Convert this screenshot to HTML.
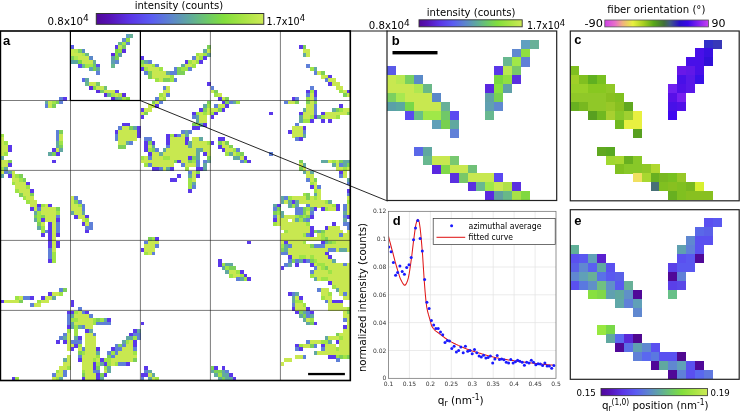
<!DOCTYPE html>
<html><head><meta charset="utf-8"><title>figure</title>
<style>
html,body{margin:0;padding:0;background:#fff;}
body{width:740px;height:412px;overflow:hidden;}
svg{display:block;}
text{font-family:"DejaVu Sans","Liberation Sans",sans-serif;fill:#000;}
.lbl{font-family:"Liberation Sans","DejaVu Sans",sans-serif;font-weight:bold;font-size:13px;fill:#000;}
.t10{font-size:10.4px;}
.tick{font-size:6px;fill:#333;}
</style></head><body>
<svg width="740" height="412" viewBox="0 0 740 412">
<defs>
<linearGradient id="gI" x1="0" x2="1" y1="0" y2="0">
<stop offset="0" stop-color="#50089a"/><stop offset="0.08" stop-color="#5612b6"/><stop offset="0.2" stop-color="#5a34e6"/><stop offset="0.33" stop-color="#5a5cf2"/>
<stop offset="0.45" stop-color="#5c86cc"/><stop offset="0.56" stop-color="#5faa9c"/><stop offset="0.66" stop-color="#6cc86a"/><stop offset="0.76" stop-color="#82de3c"/>
<stop offset="0.88" stop-color="#a8e444"/><stop offset="1" stop-color="#cdea55"/>
</linearGradient>
<linearGradient id="gO" x1="0" x2="1" y1="0" y2="0">
<stop offset="0" stop-color="#d040e8"/><stop offset="0.10" stop-color="#e870c8"/><stop offset="0.17" stop-color="#f0b080"/><stop offset="0.27" stop-color="#e8f040"/>
<stop offset="0.37" stop-color="#a8d020"/><stop offset="0.47" stop-color="#58a818"/><stop offset="0.57" stop-color="#407038"/><stop offset="0.63" stop-color="#405888"/>
<stop offset="0.72" stop-color="#2810c8"/><stop offset="0.80" stop-color="#3808e8"/><stop offset="0.90" stop-color="#8020f0"/><stop offset="1" stop-color="#c840f0"/>
</linearGradient>
<clipPath id="clipd"><rect x="388.5" y="211.3" width="167.5" height="167"/></clipPath>
</defs>
<rect x="0" y="0" width="740" height="412" fill="#fff"/>

<g id="panel-a" shape-rendering="crispEdges">
<rect x="125.76" y="34.28" width="3.83" height="3.83" fill="#60a0c0"/>
<rect x="129.45" y="34.28" width="3.83" height="3.83" fill="#68b098"/>
<rect x="122.08" y="37.97" width="3.83" height="3.83" fill="#6088d0"/>
<rect x="125.76" y="37.97" width="3.83" height="3.83" fill="#90e040"/>
<rect x="118.39" y="41.65" width="3.83" height="3.83" fill="#68b890"/>
<rect x="122.08" y="41.65" width="3.83" height="3.83" fill="#a0e848"/>
<rect x="125.76" y="41.65" width="3.83" height="3.83" fill="#6080d8"/>
<rect x="70.50" y="45.34" width="3.83" height="3.83" fill="#5a5ae8"/>
<rect x="114.71" y="45.34" width="3.83" height="3.83" fill="#5a38e8"/>
<rect x="118.39" y="45.34" width="3.83" height="3.83" fill="#b8e850"/>
<rect x="122.08" y="45.34" width="3.83" height="3.83" fill="#78c868"/>
<rect x="206.82" y="45.34" width="3.83" height="3.83" fill="#7cd058"/>
<rect x="298.92" y="45.34" width="3.83" height="3.83" fill="#5a38ea"/>
<rect x="302.61" y="45.34" width="3.83" height="3.83" fill="#7cd058"/>
<rect x="70.50" y="49.02" width="3.83" height="3.83" fill="#c8e850"/>
<rect x="74.18" y="49.02" width="3.83" height="3.83" fill="#b8e850"/>
<rect x="77.87" y="49.02" width="3.83" height="3.83" fill="#78d060"/>
<rect x="81.55" y="49.02" width="3.83" height="3.83" fill="#5a8ac8"/>
<rect x="114.71" y="49.02" width="3.83" height="3.83" fill="#78d840"/>
<rect x="118.39" y="49.02" width="3.83" height="3.83" fill="#90e040"/>
<rect x="122.08" y="49.02" width="3.83" height="3.83" fill="#5a30e0"/>
<rect x="203.13" y="49.02" width="3.83" height="3.83" fill="#62a8a2"/>
<rect x="206.82" y="49.02" width="3.83" height="3.83" fill="#c8e850"/>
<rect x="302.61" y="49.02" width="7.52" height="3.83" fill="#c8e850"/>
<rect x="70.50" y="52.71" width="11.20" height="3.83" fill="#c8e850"/>
<rect x="81.55" y="52.71" width="3.83" height="3.83" fill="#b0e850"/>
<rect x="85.24" y="52.71" width="3.83" height="3.83" fill="#6ab888"/>
<rect x="111.03" y="52.71" width="3.83" height="3.83" fill="#5a28e0"/>
<rect x="114.71" y="52.71" width="3.83" height="3.83" fill="#88e040"/>
<rect x="118.39" y="52.71" width="3.83" height="3.83" fill="#60a0a8"/>
<rect x="195.76" y="52.71" width="3.83" height="3.83" fill="#9ee446"/>
<rect x="199.45" y="52.71" width="3.83" height="3.83" fill="#c8e850"/>
<rect x="203.13" y="52.71" width="3.83" height="3.83" fill="#9ee446"/>
<rect x="206.82" y="52.71" width="3.83" height="3.83" fill="#62a8a2"/>
<rect x="302.61" y="52.71" width="3.83" height="3.83" fill="#62a8a2"/>
<rect x="306.29" y="52.71" width="3.83" height="3.83" fill="#c8e850"/>
<rect x="70.50" y="56.39" width="3.83" height="3.83" fill="#7cd060"/>
<rect x="74.18" y="56.39" width="3.83" height="3.83" fill="#a8e850"/>
<rect x="77.87" y="56.39" width="11.20" height="3.83" fill="#c8e850"/>
<rect x="88.92" y="56.39" width="3.83" height="3.83" fill="#5a88c8"/>
<rect x="111.03" y="56.39" width="3.83" height="3.83" fill="#60a0a8"/>
<rect x="114.71" y="56.39" width="3.83" height="3.83" fill="#78d050"/>
<rect x="140.50" y="56.39" width="3.83" height="3.83" fill="#5a38ea"/>
<rect x="192.08" y="56.39" width="3.83" height="3.83" fill="#5f80d8"/>
<rect x="195.76" y="56.39" width="3.83" height="3.83" fill="#c8e850"/>
<rect x="199.45" y="56.39" width="3.83" height="3.83" fill="#9ee446"/>
<rect x="203.13" y="56.39" width="3.83" height="3.83" fill="#5a38ea"/>
<rect x="70.50" y="60.07" width="3.83" height="3.83" fill="#5aa0a8"/>
<rect x="74.18" y="60.07" width="3.83" height="3.83" fill="#5aa8a0"/>
<rect x="77.87" y="60.07" width="3.83" height="3.83" fill="#78d848"/>
<rect x="81.55" y="60.07" width="11.20" height="3.83" fill="#c8e850"/>
<rect x="92.61" y="60.07" width="3.83" height="3.83" fill="#68b098"/>
<rect x="111.03" y="60.07" width="3.83" height="3.83" fill="#60a0b0"/>
<rect x="114.71" y="60.07" width="3.83" height="3.83" fill="#6088d0"/>
<rect x="140.50" y="60.07" width="3.83" height="3.83" fill="#7cd058"/>
<rect x="144.18" y="60.07" width="3.83" height="3.83" fill="#62a8a2"/>
<rect x="147.87" y="60.07" width="3.83" height="3.83" fill="#5f80d8"/>
<rect x="184.71" y="60.07" width="3.83" height="3.83" fill="#5a38ea"/>
<rect x="188.39" y="60.07" width="3.83" height="3.83" fill="#9ee446"/>
<rect x="192.08" y="60.07" width="3.83" height="3.83" fill="#c8e850"/>
<rect x="195.76" y="60.07" width="3.83" height="3.83" fill="#9ee446"/>
<rect x="199.45" y="60.07" width="3.83" height="3.83" fill="#5a38ea"/>
<rect x="77.87" y="63.76" width="3.83" height="3.83" fill="#5a4af0"/>
<rect x="81.55" y="63.76" width="3.83" height="3.83" fill="#68c088"/>
<rect x="85.24" y="63.76" width="7.52" height="3.83" fill="#a0e848"/>
<rect x="92.61" y="63.76" width="3.83" height="3.83" fill="#70c868"/>
<rect x="96.29" y="63.76" width="3.83" height="3.83" fill="#5a4af0"/>
<rect x="111.03" y="63.76" width="3.83" height="3.83" fill="#68b890"/>
<rect x="140.50" y="63.76" width="3.83" height="3.83" fill="#9ee446"/>
<rect x="144.18" y="63.76" width="7.52" height="3.83" fill="#c8e850"/>
<rect x="151.55" y="63.76" width="3.83" height="3.83" fill="#9ee446"/>
<rect x="155.24" y="63.76" width="3.83" height="3.83" fill="#5f80d8"/>
<rect x="181.03" y="63.76" width="3.83" height="3.83" fill="#62a8a2"/>
<rect x="184.71" y="63.76" width="7.52" height="3.83" fill="#c8e850"/>
<rect x="192.08" y="63.76" width="3.83" height="3.83" fill="#9ee446"/>
<rect x="306.29" y="63.76" width="3.83" height="3.83" fill="#5f80d8"/>
<rect x="88.92" y="67.44" width="3.83" height="3.83" fill="#60a0b8"/>
<rect x="92.61" y="67.44" width="3.83" height="3.83" fill="#78d050"/>
<rect x="96.29" y="67.44" width="3.83" height="3.83" fill="#60a8a0"/>
<rect x="140.50" y="67.44" width="3.83" height="3.83" fill="#5a38ea"/>
<rect x="144.18" y="67.44" width="3.83" height="3.83" fill="#9ee446"/>
<rect x="147.87" y="67.44" width="11.20" height="3.83" fill="#c8e850"/>
<rect x="158.92" y="67.44" width="3.83" height="3.83" fill="#9ee446"/>
<rect x="173.66" y="67.44" width="3.83" height="3.83" fill="#5f80d8"/>
<rect x="177.34" y="67.44" width="3.83" height="3.83" fill="#7cd058"/>
<rect x="181.03" y="67.44" width="7.52" height="3.83" fill="#9ee446"/>
<rect x="188.39" y="67.44" width="3.83" height="3.83" fill="#5f80d8"/>
<rect x="309.97" y="67.44" width="3.83" height="3.83" fill="#9ee446"/>
<rect x="313.66" y="67.44" width="3.83" height="3.83" fill="#62a8a2"/>
<rect x="96.29" y="71.13" width="3.83" height="3.83" fill="#6080d8"/>
<rect x="144.18" y="71.13" width="3.83" height="3.83" fill="#5f80d8"/>
<rect x="147.87" y="71.13" width="3.83" height="3.83" fill="#7cd058"/>
<rect x="151.55" y="71.13" width="14.89" height="3.83" fill="#c8e850"/>
<rect x="166.29" y="71.13" width="3.83" height="3.83" fill="#62a8a2"/>
<rect x="169.97" y="71.13" width="7.52" height="3.83" fill="#5f80d8"/>
<rect x="177.34" y="71.13" width="7.52" height="3.83" fill="#7cd058"/>
<rect x="313.66" y="71.13" width="3.83" height="3.83" fill="#5f80d8"/>
<rect x="317.34" y="71.13" width="3.83" height="3.83" fill="#c8e850"/>
<rect x="321.03" y="71.13" width="3.83" height="3.83" fill="#7cd058"/>
<rect x="147.87" y="74.81" width="3.83" height="3.83" fill="#7cd058"/>
<rect x="151.55" y="74.81" width="18.57" height="3.83" fill="#c8e850"/>
<rect x="169.97" y="74.81" width="3.83" height="3.83" fill="#9ee446"/>
<rect x="321.03" y="74.81" width="7.52" height="3.83" fill="#c8e850"/>
<rect x="328.39" y="74.81" width="3.83" height="3.83" fill="#5a38ea"/>
<rect x="81.55" y="78.49" width="3.83" height="3.83" fill="#5a68e8"/>
<rect x="85.24" y="78.49" width="3.83" height="3.83" fill="#60a8a0"/>
<rect x="155.24" y="78.49" width="3.83" height="3.83" fill="#9ee446"/>
<rect x="158.92" y="78.49" width="3.83" height="3.83" fill="#c8e850"/>
<rect x="162.61" y="78.49" width="7.52" height="3.83" fill="#7cd058"/>
<rect x="169.97" y="78.49" width="3.83" height="3.83" fill="#9ee446"/>
<rect x="173.66" y="78.49" width="3.83" height="3.83" fill="#5f80d8"/>
<rect x="324.71" y="78.49" width="3.83" height="3.83" fill="#5f80d8"/>
<rect x="328.39" y="78.49" width="7.52" height="3.83" fill="#c8e850"/>
<rect x="85.24" y="82.18" width="3.83" height="3.83" fill="#68b890"/>
<rect x="88.92" y="82.18" width="7.52" height="3.83" fill="#c8e850"/>
<rect x="96.29" y="82.18" width="3.83" height="3.83" fill="#78c870"/>
<rect x="206.82" y="82.18" width="3.83" height="3.83" fill="#5a38ea"/>
<rect x="328.39" y="82.18" width="3.83" height="3.83" fill="#5a38ea"/>
<rect x="332.08" y="82.18" width="7.52" height="3.83" fill="#c8e850"/>
<rect x="88.92" y="85.86" width="3.83" height="3.83" fill="#5a28e0"/>
<rect x="92.61" y="85.86" width="3.83" height="3.83" fill="#80d848"/>
<rect x="96.29" y="85.86" width="7.52" height="3.83" fill="#c8e850"/>
<rect x="103.66" y="85.86" width="3.83" height="3.83" fill="#70c078"/>
<rect x="162.61" y="85.86" width="3.83" height="3.83" fill="#5f80d8"/>
<rect x="166.29" y="85.86" width="3.83" height="3.83" fill="#c8e850"/>
<rect x="210.50" y="85.86" width="3.83" height="3.83" fill="#5f80d8"/>
<rect x="309.97" y="85.86" width="3.83" height="3.83" fill="#5f80d8"/>
<rect x="335.76" y="85.86" width="7.52" height="3.83" fill="#c8e850"/>
<rect x="96.29" y="89.55" width="3.83" height="3.83" fill="#5a30e0"/>
<rect x="99.97" y="89.55" width="3.83" height="3.83" fill="#78c868"/>
<rect x="103.66" y="89.55" width="11.20" height="3.83" fill="#c8e850"/>
<rect x="114.71" y="89.55" width="3.83" height="3.83" fill="#5a48f0"/>
<rect x="162.61" y="89.55" width="7.52" height="3.83" fill="#c8e850"/>
<rect x="210.50" y="89.55" width="3.83" height="3.83" fill="#c8e850"/>
<rect x="214.18" y="89.55" width="3.83" height="3.83" fill="#7cd058"/>
<rect x="306.29" y="89.55" width="3.83" height="3.83" fill="#5a38ea"/>
<rect x="309.97" y="89.55" width="3.83" height="3.83" fill="#9ee446"/>
<rect x="313.66" y="89.55" width="3.83" height="3.83" fill="#5a38ea"/>
<rect x="339.45" y="89.55" width="3.83" height="3.83" fill="#9ee446"/>
<rect x="343.13" y="89.55" width="3.83" height="3.83" fill="#c8e850"/>
<rect x="346.82" y="89.55" width="3.83" height="3.83" fill="#5a38ea"/>
<rect x="103.66" y="93.23" width="3.83" height="3.83" fill="#5a30e0"/>
<rect x="107.34" y="93.23" width="3.83" height="3.83" fill="#68b890"/>
<rect x="111.03" y="93.23" width="3.83" height="3.83" fill="#a0e848"/>
<rect x="114.71" y="93.23" width="3.83" height="3.83" fill="#c8e850"/>
<rect x="118.39" y="93.23" width="3.83" height="3.83" fill="#b0e048"/>
<rect x="122.08" y="93.23" width="3.83" height="3.83" fill="#5a30e0"/>
<rect x="158.92" y="93.23" width="3.83" height="3.83" fill="#9ee446"/>
<rect x="162.61" y="93.23" width="3.83" height="3.83" fill="#c8e850"/>
<rect x="166.29" y="93.23" width="3.83" height="3.83" fill="#5f80d8"/>
<rect x="214.18" y="93.23" width="3.83" height="3.83" fill="#9ee446"/>
<rect x="217.87" y="93.23" width="3.83" height="3.83" fill="#c8e850"/>
<rect x="306.29" y="93.23" width="3.83" height="3.83" fill="#5f80d8"/>
<rect x="309.97" y="93.23" width="3.83" height="3.83" fill="#c8e850"/>
<rect x="313.66" y="93.23" width="3.83" height="3.83" fill="#5a38ea"/>
<rect x="343.13" y="93.23" width="3.83" height="3.83" fill="#7cd058"/>
<rect x="346.82" y="93.23" width="3.83" height="3.83" fill="#c8e850"/>
<rect x="59.45" y="96.92" width="3.83" height="3.83" fill="#5f80d8"/>
<rect x="63.13" y="96.92" width="3.83" height="3.83" fill="#5a38ea"/>
<rect x="111.03" y="96.92" width="3.83" height="3.83" fill="#5a28e0"/>
<rect x="114.71" y="96.92" width="3.83" height="3.83" fill="#60a0a0"/>
<rect x="118.39" y="96.92" width="3.83" height="3.83" fill="#68b888"/>
<rect x="122.08" y="96.92" width="3.83" height="3.83" fill="#a8e048"/>
<rect x="125.76" y="96.92" width="3.83" height="3.83" fill="#80d840"/>
<rect x="155.24" y="96.92" width="3.83" height="3.83" fill="#5f80d8"/>
<rect x="158.92" y="96.92" width="3.83" height="3.83" fill="#c8e850"/>
<rect x="162.61" y="96.92" width="3.83" height="3.83" fill="#9ee446"/>
<rect x="217.87" y="96.92" width="3.83" height="3.83" fill="#5a38ea"/>
<rect x="221.55" y="96.92" width="3.83" height="3.83" fill="#c8e850"/>
<rect x="225.24" y="96.92" width="3.83" height="3.83" fill="#7cd058"/>
<rect x="291.55" y="96.92" width="3.83" height="3.83" fill="#5a38ea"/>
<rect x="295.24" y="96.92" width="3.83" height="3.83" fill="#5f80d8"/>
<rect x="306.29" y="96.92" width="3.83" height="3.83" fill="#9ee446"/>
<rect x="309.97" y="96.92" width="3.83" height="3.83" fill="#c8e850"/>
<rect x="313.66" y="96.92" width="3.83" height="3.83" fill="#5f80d8"/>
<rect x="44.71" y="100.60" width="3.83" height="3.83" fill="#62a8a2"/>
<rect x="48.39" y="100.60" width="3.83" height="3.83" fill="#c8e850"/>
<rect x="52.08" y="100.60" width="3.83" height="3.83" fill="#9ee446"/>
<rect x="55.76" y="100.60" width="3.83" height="3.83" fill="#7cd058"/>
<rect x="59.45" y="100.60" width="3.83" height="3.83" fill="#5f80d8"/>
<rect x="151.55" y="100.60" width="3.83" height="3.83" fill="#7cd058"/>
<rect x="155.24" y="100.60" width="3.83" height="3.83" fill="#c8e850"/>
<rect x="158.92" y="100.60" width="3.83" height="3.83" fill="#5f80d8"/>
<rect x="206.82" y="100.60" width="3.83" height="3.83" fill="#7cd058"/>
<rect x="221.55" y="100.60" width="3.83" height="3.83" fill="#5a38ea"/>
<rect x="225.24" y="100.60" width="3.83" height="3.83" fill="#7cd058"/>
<rect x="228.92" y="100.60" width="3.83" height="3.83" fill="#5f80d8"/>
<rect x="232.61" y="100.60" width="3.83" height="3.83" fill="#62a8a2"/>
<rect x="236.29" y="100.60" width="3.83" height="3.83" fill="#9ee446"/>
<rect x="284.18" y="100.60" width="3.83" height="3.83" fill="#5f80d8"/>
<rect x="287.87" y="100.60" width="7.52" height="3.83" fill="#c8e850"/>
<rect x="295.24" y="100.60" width="3.83" height="3.83" fill="#7cd058"/>
<rect x="306.29" y="100.60" width="3.83" height="3.83" fill="#7cd058"/>
<rect x="309.97" y="100.60" width="3.83" height="3.83" fill="#c8e850"/>
<rect x="313.66" y="100.60" width="3.83" height="3.83" fill="#7cd058"/>
<rect x="44.71" y="104.28" width="3.83" height="3.83" fill="#5f80d8"/>
<rect x="48.39" y="104.28" width="3.83" height="3.83" fill="#c8e850"/>
<rect x="52.08" y="104.28" width="3.83" height="3.83" fill="#7cd058"/>
<rect x="147.87" y="104.28" width="7.52" height="3.83" fill="#c8e850"/>
<rect x="155.24" y="104.28" width="3.83" height="3.83" fill="#5a38ea"/>
<rect x="203.13" y="104.28" width="3.83" height="3.83" fill="#62a8a2"/>
<rect x="206.82" y="104.28" width="3.83" height="3.83" fill="#9ee446"/>
<rect x="214.18" y="104.28" width="3.83" height="3.83" fill="#5f80d8"/>
<rect x="217.87" y="104.28" width="7.52" height="3.83" fill="#c8e850"/>
<rect x="225.24" y="104.28" width="3.83" height="3.83" fill="#5a38ea"/>
<rect x="306.29" y="104.28" width="7.52" height="3.83" fill="#c8e850"/>
<rect x="313.66" y="104.28" width="3.83" height="3.83" fill="#5f80d8"/>
<rect x="339.45" y="104.28" width="3.83" height="3.83" fill="#5a38ea"/>
<rect x="140.50" y="107.97" width="3.83" height="3.83" fill="#5a38ea"/>
<rect x="144.18" y="107.97" width="7.52" height="3.83" fill="#c8e850"/>
<rect x="199.45" y="107.97" width="3.83" height="3.83" fill="#5a38ea"/>
<rect x="203.13" y="107.97" width="3.83" height="3.83" fill="#7cd058"/>
<rect x="206.82" y="107.97" width="11.20" height="3.83" fill="#c8e850"/>
<rect x="217.87" y="107.97" width="3.83" height="3.83" fill="#7cd058"/>
<rect x="221.55" y="107.97" width="3.83" height="3.83" fill="#5a38ea"/>
<rect x="302.61" y="107.97" width="3.83" height="3.83" fill="#62a8a2"/>
<rect x="306.29" y="107.97" width="7.52" height="3.83" fill="#c8e850"/>
<rect x="313.66" y="107.97" width="3.83" height="3.83" fill="#5f80d8"/>
<rect x="332.08" y="107.97" width="3.83" height="3.83" fill="#62a8a2"/>
<rect x="335.76" y="107.97" width="3.83" height="3.83" fill="#7cd058"/>
<rect x="339.45" y="107.97" width="3.83" height="3.83" fill="#9ee446"/>
<rect x="343.13" y="107.97" width="7.52" height="3.83" fill="#c8e850"/>
<rect x="140.50" y="111.65" width="3.83" height="3.83" fill="#c8e850"/>
<rect x="144.18" y="111.65" width="3.83" height="3.83" fill="#7cd058"/>
<rect x="192.08" y="111.65" width="3.83" height="3.83" fill="#5a38ea"/>
<rect x="195.76" y="111.65" width="3.83" height="3.83" fill="#9ee446"/>
<rect x="199.45" y="111.65" width="3.83" height="3.83" fill="#c8e850"/>
<rect x="203.13" y="111.65" width="3.83" height="3.83" fill="#9ee446"/>
<rect x="206.82" y="111.65" width="3.83" height="3.83" fill="#c8e850"/>
<rect x="210.50" y="111.65" width="3.83" height="3.83" fill="#9ee446"/>
<rect x="214.18" y="111.65" width="3.83" height="3.83" fill="#5a38ea"/>
<rect x="269.45" y="111.65" width="3.83" height="3.83" fill="#5a38ea"/>
<rect x="298.92" y="111.65" width="3.83" height="3.83" fill="#5a38ea"/>
<rect x="302.61" y="111.65" width="11.20" height="3.83" fill="#c8e850"/>
<rect x="313.66" y="111.65" width="3.83" height="3.83" fill="#5f80d8"/>
<rect x="321.03" y="111.65" width="3.83" height="3.83" fill="#5a38ea"/>
<rect x="324.71" y="111.65" width="22.26" height="3.83" fill="#c8e850"/>
<rect x="346.82" y="111.65" width="3.83" height="3.83" fill="#7cd058"/>
<rect x="140.50" y="115.34" width="3.83" height="3.83" fill="#5a38ea"/>
<rect x="192.08" y="115.34" width="3.83" height="3.83" fill="#5f80d8"/>
<rect x="195.76" y="115.34" width="3.83" height="3.83" fill="#62a8a2"/>
<rect x="199.45" y="115.34" width="7.52" height="3.83" fill="#c8e850"/>
<rect x="210.50" y="115.34" width="3.83" height="3.83" fill="#5a38ea"/>
<rect x="298.92" y="115.34" width="3.83" height="3.83" fill="#62a8a2"/>
<rect x="302.61" y="115.34" width="7.52" height="3.83" fill="#c8e850"/>
<rect x="309.97" y="115.34" width="3.83" height="3.83" fill="#9ee446"/>
<rect x="313.66" y="115.34" width="3.83" height="3.83" fill="#5a38ea"/>
<rect x="317.34" y="115.34" width="3.83" height="3.83" fill="#62a8a2"/>
<rect x="321.03" y="115.34" width="3.83" height="3.83" fill="#9ee446"/>
<rect x="324.71" y="115.34" width="11.20" height="3.83" fill="#c8e850"/>
<rect x="335.76" y="115.34" width="3.83" height="3.83" fill="#9ee446"/>
<rect x="195.76" y="119.02" width="3.83" height="3.83" fill="#62a8a2"/>
<rect x="199.45" y="119.02" width="7.52" height="3.83" fill="#c8e850"/>
<rect x="298.92" y="119.02" width="3.83" height="3.83" fill="#62a8a2"/>
<rect x="302.61" y="119.02" width="7.52" height="3.83" fill="#9ee446"/>
<rect x="309.97" y="119.02" width="3.83" height="3.83" fill="#5a38ea"/>
<rect x="321.03" y="119.02" width="3.83" height="3.83" fill="#5a38ea"/>
<rect x="328.39" y="119.02" width="3.83" height="3.83" fill="#5a38ea"/>
<rect x="122.08" y="122.71" width="7.52" height="3.83" fill="#5a38ea"/>
<rect x="192.08" y="122.71" width="3.83" height="3.83" fill="#7cd058"/>
<rect x="195.76" y="122.71" width="3.83" height="3.83" fill="#9ee446"/>
<rect x="199.45" y="122.71" width="3.83" height="3.83" fill="#62a8a2"/>
<rect x="203.13" y="122.71" width="3.83" height="3.83" fill="#5a38ea"/>
<rect x="295.24" y="122.71" width="3.83" height="3.83" fill="#5f80d8"/>
<rect x="118.39" y="126.39" width="3.83" height="3.83" fill="#5f80d8"/>
<rect x="122.08" y="126.39" width="7.52" height="3.83" fill="#c8e850"/>
<rect x="129.45" y="126.39" width="3.83" height="3.83" fill="#7cd058"/>
<rect x="133.13" y="126.39" width="3.83" height="3.83" fill="#62a8a2"/>
<rect x="136.82" y="126.39" width="3.83" height="3.83" fill="#5a38ea"/>
<rect x="192.08" y="126.39" width="7.52" height="3.83" fill="#5a38ea"/>
<rect x="291.55" y="126.39" width="11.20" height="3.83" fill="#c8e850"/>
<rect x="302.61" y="126.39" width="3.83" height="3.83" fill="#5a38ea"/>
<rect x="55.76" y="130.07" width="3.83" height="3.83" fill="#5f80d8"/>
<rect x="59.45" y="130.07" width="3.83" height="3.83" fill="#7cd058"/>
<rect x="114.71" y="130.07" width="3.83" height="3.83" fill="#5a38ea"/>
<rect x="118.39" y="130.07" width="18.57" height="3.83" fill="#c8e850"/>
<rect x="136.82" y="130.07" width="3.83" height="3.83" fill="#5a38ea"/>
<rect x="181.03" y="130.07" width="3.83" height="3.83" fill="#5f80d8"/>
<rect x="184.71" y="130.07" width="3.83" height="3.83" fill="#62a8a2"/>
<rect x="188.39" y="130.07" width="3.83" height="3.83" fill="#5f80d8"/>
<rect x="287.87" y="130.07" width="3.83" height="3.83" fill="#5a38ea"/>
<rect x="291.55" y="130.07" width="11.20" height="3.83" fill="#c8e850"/>
<rect x="302.61" y="130.07" width="3.83" height="3.83" fill="#5f80d8"/>
<rect x="0.50" y="133.76" width="3.83" height="3.83" fill="#9ee446"/>
<rect x="55.76" y="133.76" width="3.83" height="3.83" fill="#5f80d8"/>
<rect x="59.45" y="133.76" width="3.83" height="3.83" fill="#c8e850"/>
<rect x="114.71" y="133.76" width="3.83" height="3.83" fill="#5f80d8"/>
<rect x="118.39" y="133.76" width="18.57" height="3.83" fill="#c8e850"/>
<rect x="136.82" y="133.76" width="3.83" height="3.83" fill="#5a38ea"/>
<rect x="166.29" y="133.76" width="3.83" height="3.83" fill="#5a38ea"/>
<rect x="169.97" y="133.76" width="3.83" height="3.83" fill="#9ee446"/>
<rect x="173.66" y="133.76" width="3.83" height="3.83" fill="#5a38ea"/>
<rect x="177.34" y="133.76" width="3.83" height="3.83" fill="#5f80d8"/>
<rect x="181.03" y="133.76" width="3.83" height="3.83" fill="#c8e850"/>
<rect x="184.71" y="133.76" width="3.83" height="3.83" fill="#62a8a2"/>
<rect x="291.55" y="133.76" width="11.20" height="3.83" fill="#c8e850"/>
<rect x="302.61" y="133.76" width="3.83" height="3.83" fill="#62a8a2"/>
<rect x="0.50" y="137.44" width="3.83" height="3.83" fill="#c8e850"/>
<rect x="55.76" y="137.44" width="3.83" height="3.83" fill="#5f80d8"/>
<rect x="59.45" y="137.44" width="3.83" height="3.83" fill="#c8e850"/>
<rect x="114.71" y="137.44" width="3.83" height="3.83" fill="#5f80d8"/>
<rect x="118.39" y="137.44" width="18.57" height="3.83" fill="#c8e850"/>
<rect x="144.18" y="137.44" width="7.52" height="3.83" fill="#5f80d8"/>
<rect x="166.29" y="137.44" width="3.83" height="3.83" fill="#5a38ea"/>
<rect x="169.97" y="137.44" width="14.89" height="3.83" fill="#c8e850"/>
<rect x="184.71" y="137.44" width="3.83" height="3.83" fill="#5a38ea"/>
<rect x="192.08" y="137.44" width="7.52" height="3.83" fill="#c8e850"/>
<rect x="199.45" y="137.44" width="3.83" height="3.83" fill="#62a8a2"/>
<rect x="217.87" y="137.44" width="7.52" height="3.83" fill="#5a38ea"/>
<rect x="295.24" y="137.44" width="3.83" height="3.83" fill="#5f80d8"/>
<rect x="298.92" y="137.44" width="3.83" height="3.83" fill="#5a38ea"/>
<rect x="0.50" y="141.13" width="3.83" height="3.83" fill="#c8e850"/>
<rect x="4.18" y="141.13" width="3.83" height="3.83" fill="#9ee446"/>
<rect x="55.76" y="141.13" width="3.83" height="3.83" fill="#62a8a2"/>
<rect x="59.45" y="141.13" width="3.83" height="3.83" fill="#9ee446"/>
<rect x="118.39" y="141.13" width="7.52" height="3.83" fill="#c8e850"/>
<rect x="125.76" y="141.13" width="3.83" height="3.83" fill="#62a8a2"/>
<rect x="129.45" y="141.13" width="3.83" height="3.83" fill="#5f80d8"/>
<rect x="144.18" y="141.13" width="3.83" height="3.83" fill="#5a38ea"/>
<rect x="147.87" y="141.13" width="3.83" height="3.83" fill="#7cd058"/>
<rect x="151.55" y="141.13" width="3.83" height="3.83" fill="#5a38ea"/>
<rect x="166.29" y="141.13" width="3.83" height="3.83" fill="#5a38ea"/>
<rect x="169.97" y="141.13" width="14.89" height="3.83" fill="#c8e850"/>
<rect x="184.71" y="141.13" width="3.83" height="3.83" fill="#5a38ea"/>
<rect x="188.39" y="141.13" width="3.83" height="3.83" fill="#62a8a2"/>
<rect x="192.08" y="141.13" width="14.89" height="3.83" fill="#c8e850"/>
<rect x="206.82" y="141.13" width="3.83" height="3.83" fill="#9ee446"/>
<rect x="210.50" y="141.13" width="3.83" height="3.83" fill="#5a38ea"/>
<rect x="217.87" y="141.13" width="3.83" height="3.83" fill="#7cd058"/>
<rect x="221.55" y="141.13" width="3.83" height="3.83" fill="#c8e850"/>
<rect x="225.24" y="141.13" width="3.83" height="3.83" fill="#7cd058"/>
<rect x="0.50" y="144.81" width="7.52" height="3.83" fill="#c8e850"/>
<rect x="7.87" y="144.81" width="3.83" height="3.83" fill="#5a38ea"/>
<rect x="55.76" y="144.81" width="3.83" height="3.83" fill="#62a8a2"/>
<rect x="59.45" y="144.81" width="3.83" height="3.83" fill="#7cd058"/>
<rect x="118.39" y="144.81" width="7.52" height="3.83" fill="#7cd058"/>
<rect x="144.18" y="144.81" width="3.83" height="3.83" fill="#5a38ea"/>
<rect x="147.87" y="144.81" width="3.83" height="3.83" fill="#c8e850"/>
<rect x="151.55" y="144.81" width="3.83" height="3.83" fill="#62a8a2"/>
<rect x="166.29" y="144.81" width="3.83" height="3.83" fill="#5f80d8"/>
<rect x="169.97" y="144.81" width="18.57" height="3.83" fill="#c8e850"/>
<rect x="188.39" y="144.81" width="3.83" height="3.83" fill="#62a8a2"/>
<rect x="192.08" y="144.81" width="18.57" height="3.83" fill="#c8e850"/>
<rect x="217.87" y="144.81" width="3.83" height="3.83" fill="#5a38ea"/>
<rect x="221.55" y="144.81" width="7.52" height="3.83" fill="#c8e850"/>
<rect x="228.92" y="144.81" width="3.83" height="3.83" fill="#7cd058"/>
<rect x="0.50" y="148.49" width="7.52" height="3.83" fill="#c8e850"/>
<rect x="7.87" y="148.49" width="3.83" height="3.83" fill="#5a38ea"/>
<rect x="52.08" y="148.49" width="3.83" height="3.83" fill="#5a38ea"/>
<rect x="55.76" y="148.49" width="3.83" height="3.83" fill="#c8e850"/>
<rect x="59.45" y="148.49" width="3.83" height="3.83" fill="#62a8a2"/>
<rect x="144.18" y="148.49" width="3.83" height="3.83" fill="#5a38ea"/>
<rect x="147.87" y="148.49" width="3.83" height="3.83" fill="#9ee446"/>
<rect x="151.55" y="148.49" width="3.83" height="3.83" fill="#7cd058"/>
<rect x="155.24" y="148.49" width="3.83" height="3.83" fill="#5f80d8"/>
<rect x="162.61" y="148.49" width="3.83" height="3.83" fill="#62a8a2"/>
<rect x="166.29" y="148.49" width="29.62" height="3.83" fill="#c8e850"/>
<rect x="195.76" y="148.49" width="7.52" height="3.83" fill="#62a8a2"/>
<rect x="203.13" y="148.49" width="7.52" height="3.83" fill="#c8e850"/>
<rect x="221.55" y="148.49" width="3.83" height="3.83" fill="#5a38ea"/>
<rect x="225.24" y="148.49" width="7.52" height="3.83" fill="#c8e850"/>
<rect x="232.61" y="148.49" width="3.83" height="3.83" fill="#9ee446"/>
<rect x="236.29" y="148.49" width="3.83" height="3.83" fill="#5f80d8"/>
<rect x="0.50" y="152.18" width="3.83" height="3.83" fill="#c8e850"/>
<rect x="4.18" y="152.18" width="3.83" height="3.83" fill="#9ee446"/>
<rect x="48.39" y="152.18" width="3.83" height="3.83" fill="#62a8a2"/>
<rect x="52.08" y="152.18" width="3.83" height="3.83" fill="#7cd058"/>
<rect x="55.76" y="152.18" width="3.83" height="3.83" fill="#5a38ea"/>
<rect x="147.87" y="152.18" width="3.83" height="3.83" fill="#5a38ea"/>
<rect x="151.55" y="152.18" width="7.52" height="3.83" fill="#c8e850"/>
<rect x="158.92" y="152.18" width="3.83" height="3.83" fill="#62a8a2"/>
<rect x="162.61" y="152.18" width="33.31" height="3.83" fill="#c8e850"/>
<rect x="195.76" y="152.18" width="3.83" height="3.83" fill="#62a8a2"/>
<rect x="203.13" y="152.18" width="3.83" height="3.83" fill="#5a38ea"/>
<rect x="206.82" y="152.18" width="3.83" height="3.83" fill="#c8e850"/>
<rect x="225.24" y="152.18" width="3.83" height="3.83" fill="#9ee446"/>
<rect x="228.92" y="152.18" width="3.83" height="3.83" fill="#62a8a2"/>
<rect x="232.61" y="152.18" width="3.83" height="3.83" fill="#c8e850"/>
<rect x="236.29" y="152.18" width="3.83" height="3.83" fill="#9ee446"/>
<rect x="239.97" y="152.18" width="3.83" height="3.83" fill="#7cd058"/>
<rect x="269.45" y="152.18" width="3.83" height="3.83" fill="#5f80d8"/>
<rect x="0.50" y="155.86" width="3.83" height="3.83" fill="#62a8a2"/>
<rect x="140.50" y="155.86" width="3.83" height="3.83" fill="#9ee446"/>
<rect x="144.18" y="155.86" width="3.83" height="3.83" fill="#c8e850"/>
<rect x="147.87" y="155.86" width="3.83" height="3.83" fill="#5f80d8"/>
<rect x="151.55" y="155.86" width="11.20" height="3.83" fill="#c8e850"/>
<rect x="162.61" y="155.86" width="7.52" height="3.83" fill="#9ee446"/>
<rect x="169.97" y="155.86" width="18.57" height="3.83" fill="#c8e850"/>
<rect x="188.39" y="155.86" width="3.83" height="3.83" fill="#5a38ea"/>
<rect x="192.08" y="155.86" width="3.83" height="3.83" fill="#7cd058"/>
<rect x="195.76" y="155.86" width="3.83" height="3.83" fill="#62a8a2"/>
<rect x="206.82" y="155.86" width="3.83" height="3.83" fill="#7cd058"/>
<rect x="232.61" y="155.86" width="7.52" height="3.83" fill="#62a8a2"/>
<rect x="239.97" y="155.86" width="3.83" height="3.83" fill="#c8e850"/>
<rect x="243.66" y="155.86" width="3.83" height="3.83" fill="#5a38ea"/>
<rect x="0.50" y="159.55" width="7.52" height="3.83" fill="#c8e850"/>
<rect x="7.87" y="159.55" width="3.83" height="3.83" fill="#7cd058"/>
<rect x="52.08" y="159.55" width="3.83" height="3.83" fill="#5a38ea"/>
<rect x="140.50" y="159.55" width="33.31" height="3.83" fill="#c8e850"/>
<rect x="173.66" y="159.55" width="3.83" height="3.83" fill="#7cd058"/>
<rect x="177.34" y="159.55" width="3.83" height="3.83" fill="#5a38ea"/>
<rect x="181.03" y="159.55" width="7.52" height="3.83" fill="#c8e850"/>
<rect x="188.39" y="159.55" width="3.83" height="3.83" fill="#7cd058"/>
<rect x="192.08" y="159.55" width="3.83" height="3.83" fill="#9ee446"/>
<rect x="195.76" y="159.55" width="3.83" height="3.83" fill="#5f80d8"/>
<rect x="203.13" y="159.55" width="3.83" height="3.83" fill="#5f80d8"/>
<rect x="206.82" y="159.55" width="3.83" height="3.83" fill="#62a8a2"/>
<rect x="239.97" y="159.55" width="3.83" height="3.83" fill="#5f80d8"/>
<rect x="243.66" y="159.55" width="3.83" height="3.83" fill="#7cd058"/>
<rect x="247.34" y="159.55" width="3.83" height="3.83" fill="#5a38ea"/>
<rect x="298.92" y="159.55" width="3.83" height="3.83" fill="#7cd058"/>
<rect x="321.03" y="159.55" width="7.52" height="3.83" fill="#62a8a2"/>
<rect x="328.39" y="159.55" width="3.83" height="3.83" fill="#c8e850"/>
<rect x="332.08" y="159.55" width="3.83" height="3.83" fill="#9ee446"/>
<rect x="335.76" y="159.55" width="3.83" height="3.83" fill="#c8e850"/>
<rect x="339.45" y="159.55" width="3.83" height="3.83" fill="#7cd058"/>
<rect x="343.13" y="159.55" width="7.52" height="3.83" fill="#62a8a2"/>
<rect x="0.50" y="163.23" width="7.52" height="3.83" fill="#c8e850"/>
<rect x="7.87" y="163.23" width="3.83" height="3.83" fill="#5a38ea"/>
<rect x="144.18" y="163.23" width="3.83" height="3.83" fill="#9ee446"/>
<rect x="147.87" y="163.23" width="3.83" height="3.83" fill="#5f80d8"/>
<rect x="151.55" y="163.23" width="22.26" height="3.83" fill="#c8e850"/>
<rect x="181.03" y="163.23" width="3.83" height="3.83" fill="#5f80d8"/>
<rect x="184.71" y="163.23" width="11.20" height="3.83" fill="#c8e850"/>
<rect x="195.76" y="163.23" width="3.83" height="3.83" fill="#5f80d8"/>
<rect x="203.13" y="163.23" width="3.83" height="3.83" fill="#62a8a2"/>
<rect x="298.92" y="163.23" width="3.83" height="3.83" fill="#c8e850"/>
<rect x="302.61" y="163.23" width="3.83" height="3.83" fill="#62a8a2"/>
<rect x="332.08" y="163.23" width="3.83" height="3.83" fill="#62a8a2"/>
<rect x="335.76" y="163.23" width="3.83" height="3.83" fill="#c8e850"/>
<rect x="339.45" y="163.23" width="3.83" height="3.83" fill="#5f80d8"/>
<rect x="343.13" y="163.23" width="3.83" height="3.83" fill="#62a8a2"/>
<rect x="346.82" y="163.23" width="3.83" height="3.83" fill="#7cd058"/>
<rect x="0.50" y="166.92" width="3.83" height="3.83" fill="#9ee446"/>
<rect x="4.18" y="166.92" width="3.83" height="3.83" fill="#62a8a2"/>
<rect x="151.55" y="166.92" width="7.52" height="3.83" fill="#5a38ea"/>
<rect x="158.92" y="166.92" width="3.83" height="3.83" fill="#5f80d8"/>
<rect x="162.61" y="166.92" width="3.83" height="3.83" fill="#c8e850"/>
<rect x="166.29" y="166.92" width="3.83" height="3.83" fill="#62a8a2"/>
<rect x="169.97" y="166.92" width="3.83" height="3.83" fill="#5a38ea"/>
<rect x="184.71" y="166.92" width="3.83" height="3.83" fill="#9ee446"/>
<rect x="195.76" y="166.92" width="7.52" height="3.83" fill="#5a38ea"/>
<rect x="203.13" y="166.92" width="3.83" height="3.83" fill="#62a8a2"/>
<rect x="298.92" y="166.92" width="3.83" height="3.83" fill="#7cd058"/>
<rect x="302.61" y="166.92" width="3.83" height="3.83" fill="#c8e850"/>
<rect x="335.76" y="166.92" width="7.52" height="3.83" fill="#c8e850"/>
<rect x="343.13" y="166.92" width="3.83" height="3.83" fill="#9ee446"/>
<rect x="346.82" y="166.92" width="3.83" height="3.83" fill="#c8e850"/>
<rect x="0.50" y="170.60" width="3.83" height="3.83" fill="#c8e850"/>
<rect x="4.18" y="170.60" width="3.83" height="3.83" fill="#5f80d8"/>
<rect x="7.87" y="170.60" width="3.83" height="3.83" fill="#62a8a2"/>
<rect x="11.55" y="170.60" width="3.83" height="3.83" fill="#c8e850"/>
<rect x="188.39" y="170.60" width="3.83" height="3.83" fill="#5f80d8"/>
<rect x="192.08" y="170.60" width="3.83" height="3.83" fill="#c8e850"/>
<rect x="195.76" y="170.60" width="3.83" height="3.83" fill="#7cd058"/>
<rect x="302.61" y="170.60" width="3.83" height="3.83" fill="#62a8a2"/>
<rect x="306.29" y="170.60" width="3.83" height="3.83" fill="#c8e850"/>
<rect x="309.97" y="170.60" width="3.83" height="3.83" fill="#62a8a2"/>
<rect x="339.45" y="170.60" width="3.83" height="3.83" fill="#5a38ea"/>
<rect x="343.13" y="170.60" width="3.83" height="3.83" fill="#c8e850"/>
<rect x="0.50" y="174.28" width="3.83" height="3.83" fill="#62a8a2"/>
<rect x="7.87" y="174.28" width="3.83" height="3.83" fill="#5a38ea"/>
<rect x="11.55" y="174.28" width="3.83" height="3.83" fill="#c8e850"/>
<rect x="15.24" y="174.28" width="3.83" height="3.83" fill="#9ee446"/>
<rect x="18.92" y="174.28" width="3.83" height="3.83" fill="#7cd058"/>
<rect x="177.34" y="174.28" width="3.83" height="3.83" fill="#5a38ea"/>
<rect x="188.39" y="174.28" width="3.83" height="3.83" fill="#62a8a2"/>
<rect x="192.08" y="174.28" width="3.83" height="3.83" fill="#c8e850"/>
<rect x="195.76" y="174.28" width="3.83" height="3.83" fill="#5a38ea"/>
<rect x="306.29" y="174.28" width="7.52" height="3.83" fill="#c8e850"/>
<rect x="339.45" y="174.28" width="3.83" height="3.83" fill="#5f80d8"/>
<rect x="343.13" y="174.28" width="3.83" height="3.83" fill="#c8e850"/>
<rect x="11.55" y="177.97" width="7.52" height="3.83" fill="#c8e850"/>
<rect x="18.92" y="177.97" width="3.83" height="3.83" fill="#9ee446"/>
<rect x="22.61" y="177.97" width="3.83" height="3.83" fill="#7cd058"/>
<rect x="169.97" y="177.97" width="7.52" height="3.83" fill="#5a38ea"/>
<rect x="188.39" y="177.97" width="3.83" height="3.83" fill="#9ee446"/>
<rect x="192.08" y="177.97" width="3.83" height="3.83" fill="#c8e850"/>
<rect x="306.29" y="177.97" width="3.83" height="3.83" fill="#5f80d8"/>
<rect x="309.97" y="177.97" width="3.83" height="3.83" fill="#c8e850"/>
<rect x="313.66" y="177.97" width="3.83" height="3.83" fill="#7cd058"/>
<rect x="346.82" y="177.97" width="3.83" height="3.83" fill="#62a8a2"/>
<rect x="11.55" y="181.65" width="3.83" height="3.83" fill="#9ee446"/>
<rect x="15.24" y="181.65" width="11.20" height="3.83" fill="#c8e850"/>
<rect x="26.29" y="181.65" width="3.83" height="3.83" fill="#5a38ea"/>
<rect x="188.39" y="181.65" width="3.83" height="3.83" fill="#9ee446"/>
<rect x="192.08" y="181.65" width="3.83" height="3.83" fill="#62a8a2"/>
<rect x="309.97" y="181.65" width="3.83" height="3.83" fill="#9ee446"/>
<rect x="313.66" y="181.65" width="3.83" height="3.83" fill="#c8e850"/>
<rect x="346.82" y="181.65" width="3.83" height="3.83" fill="#5f80d8"/>
<rect x="15.24" y="185.34" width="11.20" height="3.83" fill="#c8e850"/>
<rect x="26.29" y="185.34" width="3.83" height="3.83" fill="#9ee446"/>
<rect x="188.39" y="185.34" width="3.83" height="3.83" fill="#9ee446"/>
<rect x="192.08" y="185.34" width="3.83" height="3.83" fill="#5f80d8"/>
<rect x="309.97" y="185.34" width="3.83" height="3.83" fill="#5a38ea"/>
<rect x="313.66" y="185.34" width="3.83" height="3.83" fill="#c8e850"/>
<rect x="317.34" y="185.34" width="3.83" height="3.83" fill="#5f80d8"/>
<rect x="15.24" y="189.02" width="3.83" height="3.83" fill="#9ee446"/>
<rect x="18.92" y="189.02" width="11.20" height="3.83" fill="#c8e850"/>
<rect x="29.97" y="189.02" width="3.83" height="3.83" fill="#5a38ea"/>
<rect x="188.39" y="189.02" width="3.83" height="3.83" fill="#5a38ea"/>
<rect x="313.66" y="189.02" width="3.83" height="3.83" fill="#9ee446"/>
<rect x="317.34" y="189.02" width="3.83" height="3.83" fill="#c8e850"/>
<rect x="346.82" y="189.02" width="3.83" height="3.83" fill="#5a38ea"/>
<rect x="18.92" y="192.71" width="3.83" height="3.83" fill="#7cd058"/>
<rect x="22.61" y="192.71" width="7.52" height="3.83" fill="#c8e850"/>
<rect x="29.97" y="192.71" width="3.83" height="3.83" fill="#7cd058"/>
<rect x="302.61" y="192.71" width="3.83" height="3.83" fill="#9ee446"/>
<rect x="306.29" y="192.71" width="3.83" height="3.83" fill="#7cd058"/>
<rect x="313.66" y="192.71" width="3.83" height="3.83" fill="#62a8a2"/>
<rect x="317.34" y="192.71" width="3.83" height="3.83" fill="#c8e850"/>
<rect x="346.82" y="192.71" width="3.83" height="3.83" fill="#5f80d8"/>
<rect x="22.61" y="196.39" width="3.83" height="3.83" fill="#9ee446"/>
<rect x="26.29" y="196.39" width="7.52" height="3.83" fill="#c8e850"/>
<rect x="70.50" y="196.39" width="3.83" height="3.83" fill="#c8e850"/>
<rect x="74.18" y="196.39" width="3.83" height="3.83" fill="#5f80d8"/>
<rect x="280.50" y="196.39" width="3.83" height="3.83" fill="#62a8a2"/>
<rect x="284.18" y="196.39" width="3.83" height="3.83" fill="#5f80d8"/>
<rect x="287.87" y="196.39" width="3.83" height="3.83" fill="#9ee446"/>
<rect x="291.55" y="196.39" width="14.89" height="3.83" fill="#c8e850"/>
<rect x="306.29" y="196.39" width="3.83" height="3.83" fill="#7cd058"/>
<rect x="309.97" y="196.39" width="3.83" height="3.83" fill="#c8e850"/>
<rect x="313.66" y="196.39" width="3.83" height="3.83" fill="#9ee446"/>
<rect x="317.34" y="196.39" width="3.83" height="3.83" fill="#c8e850"/>
<rect x="346.82" y="196.39" width="3.83" height="3.83" fill="#c8e850"/>
<rect x="26.29" y="200.07" width="3.83" height="3.83" fill="#9ee446"/>
<rect x="29.97" y="200.07" width="7.52" height="3.83" fill="#c8e850"/>
<rect x="70.50" y="200.07" width="3.83" height="3.83" fill="#c8e850"/>
<rect x="74.18" y="200.07" width="3.83" height="3.83" fill="#7cd058"/>
<rect x="77.87" y="200.07" width="3.83" height="3.83" fill="#5f80d8"/>
<rect x="280.50" y="200.07" width="3.83" height="3.83" fill="#62a8a2"/>
<rect x="284.18" y="200.07" width="3.83" height="3.83" fill="#c8e850"/>
<rect x="287.87" y="200.07" width="3.83" height="3.83" fill="#62a8a2"/>
<rect x="291.55" y="200.07" width="3.83" height="3.83" fill="#5a38ea"/>
<rect x="295.24" y="200.07" width="3.83" height="3.83" fill="#62a8a2"/>
<rect x="298.92" y="200.07" width="25.94" height="3.83" fill="#c8e850"/>
<rect x="324.71" y="200.07" width="3.83" height="3.83" fill="#9ee446"/>
<rect x="328.39" y="200.07" width="3.83" height="3.83" fill="#62a8a2"/>
<rect x="346.82" y="200.07" width="3.83" height="3.83" fill="#9ee446"/>
<rect x="29.97" y="203.76" width="7.52" height="3.83" fill="#c8e850"/>
<rect x="37.34" y="203.76" width="3.83" height="3.83" fill="#5a38ea"/>
<rect x="41.03" y="203.76" width="3.83" height="3.83" fill="#9ee446"/>
<rect x="44.71" y="203.76" width="3.83" height="3.83" fill="#c8e850"/>
<rect x="48.39" y="203.76" width="3.83" height="3.83" fill="#5a38ea"/>
<rect x="70.50" y="203.76" width="7.52" height="3.83" fill="#c8e850"/>
<rect x="77.87" y="203.76" width="3.83" height="3.83" fill="#9ee446"/>
<rect x="81.55" y="203.76" width="3.83" height="3.83" fill="#5f80d8"/>
<rect x="273.13" y="203.76" width="3.83" height="3.83" fill="#62a8a2"/>
<rect x="276.82" y="203.76" width="3.83" height="3.83" fill="#5a38ea"/>
<rect x="287.87" y="203.76" width="3.83" height="3.83" fill="#62a8a2"/>
<rect x="291.55" y="203.76" width="3.83" height="3.83" fill="#9ee446"/>
<rect x="295.24" y="203.76" width="3.83" height="3.83" fill="#62a8a2"/>
<rect x="306.29" y="203.76" width="3.83" height="3.83" fill="#5f80d8"/>
<rect x="309.97" y="203.76" width="22.26" height="3.83" fill="#c8e850"/>
<rect x="332.08" y="203.76" width="3.83" height="3.83" fill="#9ee446"/>
<rect x="335.76" y="203.76" width="3.83" height="3.83" fill="#5a38ea"/>
<rect x="343.13" y="203.76" width="3.83" height="3.83" fill="#5f80d8"/>
<rect x="346.82" y="203.76" width="3.83" height="3.83" fill="#c8e850"/>
<rect x="29.97" y="207.44" width="3.83" height="3.83" fill="#5a38ea"/>
<rect x="33.66" y="207.44" width="3.83" height="3.83" fill="#c8e850"/>
<rect x="37.34" y="207.44" width="3.83" height="3.83" fill="#5f80d8"/>
<rect x="41.03" y="207.44" width="14.89" height="3.83" fill="#c8e850"/>
<rect x="55.76" y="207.44" width="3.83" height="3.83" fill="#7cd058"/>
<rect x="70.50" y="207.44" width="11.20" height="3.83" fill="#c8e850"/>
<rect x="81.55" y="207.44" width="3.83" height="3.83" fill="#5f80d8"/>
<rect x="273.13" y="207.44" width="3.83" height="3.83" fill="#5f80d8"/>
<rect x="276.82" y="207.44" width="3.83" height="3.83" fill="#7cd058"/>
<rect x="295.24" y="207.44" width="7.52" height="3.83" fill="#5f80d8"/>
<rect x="302.61" y="207.44" width="3.83" height="3.83" fill="#7cd058"/>
<rect x="306.29" y="207.44" width="3.83" height="3.83" fill="#9ee446"/>
<rect x="309.97" y="207.44" width="3.83" height="3.83" fill="#62a8a2"/>
<rect x="313.66" y="207.44" width="3.83" height="3.83" fill="#5a38ea"/>
<rect x="321.03" y="207.44" width="3.83" height="3.83" fill="#5a38ea"/>
<rect x="324.71" y="207.44" width="3.83" height="3.83" fill="#9ee446"/>
<rect x="328.39" y="207.44" width="7.52" height="3.83" fill="#c8e850"/>
<rect x="335.76" y="207.44" width="3.83" height="3.83" fill="#5a38ea"/>
<rect x="343.13" y="207.44" width="3.83" height="3.83" fill="#5f80d8"/>
<rect x="346.82" y="207.44" width="3.83" height="3.83" fill="#c8e850"/>
<rect x="33.66" y="211.13" width="3.83" height="3.83" fill="#62a8a2"/>
<rect x="37.34" y="211.13" width="3.83" height="3.83" fill="#9ee446"/>
<rect x="41.03" y="211.13" width="14.89" height="3.83" fill="#c8e850"/>
<rect x="55.76" y="211.13" width="3.83" height="3.83" fill="#9ee446"/>
<rect x="70.50" y="211.13" width="3.83" height="3.83" fill="#62a8a2"/>
<rect x="74.18" y="211.13" width="7.52" height="3.83" fill="#c8e850"/>
<rect x="81.55" y="211.13" width="3.83" height="3.83" fill="#62a8a2"/>
<rect x="273.13" y="211.13" width="3.83" height="3.83" fill="#7cd058"/>
<rect x="276.82" y="211.13" width="3.83" height="3.83" fill="#9ee446"/>
<rect x="280.50" y="211.13" width="3.83" height="3.83" fill="#62a8a2"/>
<rect x="295.24" y="211.13" width="7.52" height="3.83" fill="#5f80d8"/>
<rect x="302.61" y="211.13" width="3.83" height="3.83" fill="#7cd058"/>
<rect x="306.29" y="211.13" width="3.83" height="3.83" fill="#c8e850"/>
<rect x="309.97" y="211.13" width="3.83" height="3.83" fill="#5f80d8"/>
<rect x="343.13" y="211.13" width="3.83" height="3.83" fill="#62a8a2"/>
<rect x="346.82" y="211.13" width="3.83" height="3.83" fill="#c8e850"/>
<rect x="33.66" y="214.81" width="3.83" height="3.83" fill="#7cd058"/>
<rect x="37.34" y="214.81" width="3.83" height="3.83" fill="#9ee446"/>
<rect x="41.03" y="214.81" width="3.83" height="3.83" fill="#7cd058"/>
<rect x="44.71" y="214.81" width="11.20" height="3.83" fill="#c8e850"/>
<rect x="55.76" y="214.81" width="3.83" height="3.83" fill="#5f80d8"/>
<rect x="74.18" y="214.81" width="3.83" height="3.83" fill="#5a38ea"/>
<rect x="77.87" y="214.81" width="7.52" height="3.83" fill="#c8e850"/>
<rect x="85.24" y="214.81" width="3.83" height="3.83" fill="#5a38ea"/>
<rect x="273.13" y="214.81" width="3.83" height="3.83" fill="#5f80d8"/>
<rect x="276.82" y="214.81" width="3.83" height="3.83" fill="#c8e850"/>
<rect x="280.50" y="214.81" width="3.83" height="3.83" fill="#62a8a2"/>
<rect x="284.18" y="214.81" width="11.20" height="3.83" fill="#c8e850"/>
<rect x="295.24" y="214.81" width="3.83" height="3.83" fill="#9ee446"/>
<rect x="298.92" y="214.81" width="3.83" height="3.83" fill="#7cd058"/>
<rect x="302.61" y="214.81" width="3.83" height="3.83" fill="#9ee446"/>
<rect x="306.29" y="214.81" width="3.83" height="3.83" fill="#7cd058"/>
<rect x="309.97" y="214.81" width="3.83" height="3.83" fill="#5a38ea"/>
<rect x="343.13" y="214.81" width="3.83" height="3.83" fill="#5f80d8"/>
<rect x="346.82" y="214.81" width="3.83" height="3.83" fill="#5a38ea"/>
<rect x="33.66" y="218.49" width="3.83" height="3.83" fill="#62a8a2"/>
<rect x="37.34" y="218.49" width="3.83" height="3.83" fill="#9ee446"/>
<rect x="41.03" y="218.49" width="3.83" height="3.83" fill="#5a38ea"/>
<rect x="44.71" y="218.49" width="11.20" height="3.83" fill="#c8e850"/>
<rect x="55.76" y="218.49" width="3.83" height="3.83" fill="#5a38ea"/>
<rect x="81.55" y="218.49" width="3.83" height="3.83" fill="#c8e850"/>
<rect x="85.24" y="218.49" width="3.83" height="3.83" fill="#9ee446"/>
<rect x="273.13" y="218.49" width="3.83" height="3.83" fill="#5a38ea"/>
<rect x="276.82" y="218.49" width="11.20" height="3.83" fill="#c8e850"/>
<rect x="291.55" y="218.49" width="3.83" height="3.83" fill="#c8e850"/>
<rect x="295.24" y="218.49" width="3.83" height="3.83" fill="#62a8a2"/>
<rect x="298.92" y="218.49" width="3.83" height="3.83" fill="#9ee446"/>
<rect x="302.61" y="218.49" width="3.83" height="3.83" fill="#62a8a2"/>
<rect x="306.29" y="218.49" width="3.83" height="3.83" fill="#5f80d8"/>
<rect x="343.13" y="218.49" width="3.83" height="3.83" fill="#62a8a2"/>
<rect x="37.34" y="222.18" width="3.83" height="3.83" fill="#7cd058"/>
<rect x="41.03" y="222.18" width="3.83" height="3.83" fill="#c8e850"/>
<rect x="48.39" y="222.18" width="3.83" height="3.83" fill="#5a38ea"/>
<rect x="52.08" y="222.18" width="3.83" height="3.83" fill="#c8e850"/>
<rect x="55.76" y="222.18" width="3.83" height="3.83" fill="#5f80d8"/>
<rect x="81.55" y="222.18" width="3.83" height="3.83" fill="#5a38ea"/>
<rect x="85.24" y="222.18" width="3.83" height="3.83" fill="#c8e850"/>
<rect x="88.92" y="222.18" width="3.83" height="3.83" fill="#5f80d8"/>
<rect x="273.13" y="222.18" width="3.83" height="3.83" fill="#9ee446"/>
<rect x="276.82" y="222.18" width="29.62" height="3.83" fill="#c8e850"/>
<rect x="306.29" y="222.18" width="3.83" height="3.83" fill="#9ee446"/>
<rect x="332.08" y="222.18" width="3.83" height="3.83" fill="#5a38ea"/>
<rect x="343.13" y="222.18" width="7.52" height="3.83" fill="#5f80d8"/>
<rect x="37.34" y="225.86" width="3.83" height="3.83" fill="#62a8a2"/>
<rect x="41.03" y="225.86" width="3.83" height="3.83" fill="#9ee446"/>
<rect x="48.39" y="225.86" width="3.83" height="3.83" fill="#5a38ea"/>
<rect x="52.08" y="225.86" width="3.83" height="3.83" fill="#c8e850"/>
<rect x="55.76" y="225.86" width="3.83" height="3.83" fill="#5f80d8"/>
<rect x="85.24" y="225.86" width="7.52" height="3.83" fill="#5f80d8"/>
<rect x="280.50" y="225.86" width="29.62" height="3.83" fill="#c8e850"/>
<rect x="309.97" y="225.86" width="3.83" height="3.83" fill="#5a38ea"/>
<rect x="324.71" y="225.86" width="3.83" height="3.83" fill="#5a38ea"/>
<rect x="328.39" y="225.86" width="11.20" height="3.83" fill="#c8e850"/>
<rect x="346.82" y="225.86" width="3.83" height="3.83" fill="#5f80d8"/>
<rect x="41.03" y="229.55" width="3.83" height="3.83" fill="#9ee446"/>
<rect x="44.71" y="229.55" width="3.83" height="3.83" fill="#5f80d8"/>
<rect x="48.39" y="229.55" width="3.83" height="3.83" fill="#5a38ea"/>
<rect x="52.08" y="229.55" width="3.83" height="3.83" fill="#c8e850"/>
<rect x="55.76" y="229.55" width="3.83" height="3.83" fill="#5f80d8"/>
<rect x="85.24" y="229.55" width="3.83" height="3.83" fill="#5a38ea"/>
<rect x="284.18" y="229.55" width="3.83" height="3.83" fill="#9ee446"/>
<rect x="287.87" y="229.55" width="22.26" height="3.83" fill="#c8e850"/>
<rect x="309.97" y="229.55" width="3.83" height="3.83" fill="#5a38ea"/>
<rect x="313.66" y="229.55" width="3.83" height="3.83" fill="#7cd058"/>
<rect x="317.34" y="229.55" width="3.83" height="3.83" fill="#62a8a2"/>
<rect x="321.03" y="229.55" width="3.83" height="3.83" fill="#7cd058"/>
<rect x="324.71" y="229.55" width="18.57" height="3.83" fill="#c8e850"/>
<rect x="346.82" y="229.55" width="3.83" height="3.83" fill="#c8e850"/>
<rect x="41.03" y="233.23" width="3.83" height="3.83" fill="#5a38ea"/>
<rect x="48.39" y="233.23" width="3.83" height="3.83" fill="#5a38ea"/>
<rect x="52.08" y="233.23" width="3.83" height="3.83" fill="#c8e850"/>
<rect x="55.76" y="233.23" width="3.83" height="3.83" fill="#5a38ea"/>
<rect x="280.50" y="233.23" width="22.26" height="3.83" fill="#c8e850"/>
<rect x="302.61" y="233.23" width="3.83" height="3.83" fill="#9ee446"/>
<rect x="306.29" y="233.23" width="3.83" height="3.83" fill="#5f80d8"/>
<rect x="309.97" y="233.23" width="3.83" height="3.83" fill="#5a38ea"/>
<rect x="317.34" y="233.23" width="3.83" height="3.83" fill="#c8e850"/>
<rect x="321.03" y="233.23" width="3.83" height="3.83" fill="#9ee446"/>
<rect x="324.71" y="233.23" width="14.89" height="3.83" fill="#c8e850"/>
<rect x="339.45" y="233.23" width="3.83" height="3.83" fill="#5f80d8"/>
<rect x="343.13" y="233.23" width="7.52" height="3.83" fill="#c8e850"/>
<rect x="48.39" y="236.92" width="3.83" height="3.83" fill="#5a38ea"/>
<rect x="52.08" y="236.92" width="3.83" height="3.83" fill="#c8e850"/>
<rect x="147.87" y="236.92" width="3.83" height="3.83" fill="#7cd058"/>
<rect x="151.55" y="236.92" width="3.83" height="3.83" fill="#9ee446"/>
<rect x="155.24" y="236.92" width="3.83" height="3.83" fill="#5a38ea"/>
<rect x="280.50" y="236.92" width="40.68" height="3.83" fill="#c8e850"/>
<rect x="321.03" y="236.92" width="3.83" height="3.83" fill="#9ee446"/>
<rect x="324.71" y="236.92" width="3.83" height="3.83" fill="#7cd058"/>
<rect x="328.39" y="236.92" width="22.26" height="3.83" fill="#c8e850"/>
<rect x="48.39" y="240.60" width="3.83" height="3.83" fill="#5a38ea"/>
<rect x="52.08" y="240.60" width="3.83" height="3.83" fill="#c8e850"/>
<rect x="55.76" y="240.60" width="3.83" height="3.83" fill="#5a38ea"/>
<rect x="144.18" y="240.60" width="3.83" height="3.83" fill="#5f80d8"/>
<rect x="147.87" y="240.60" width="11.20" height="3.83" fill="#c8e850"/>
<rect x="247.34" y="240.60" width="3.83" height="3.83" fill="#5a38ea"/>
<rect x="280.50" y="240.60" width="3.83" height="3.83" fill="#c8e850"/>
<rect x="284.18" y="240.60" width="3.83" height="3.83" fill="#5a38ea"/>
<rect x="287.87" y="240.60" width="14.89" height="3.83" fill="#c8e850"/>
<rect x="302.61" y="240.60" width="3.83" height="3.83" fill="#9ee446"/>
<rect x="321.03" y="240.60" width="3.83" height="3.83" fill="#5a38ea"/>
<rect x="324.71" y="240.60" width="3.83" height="3.83" fill="#62a8a2"/>
<rect x="328.39" y="240.60" width="3.83" height="3.83" fill="#7cd058"/>
<rect x="332.08" y="240.60" width="3.83" height="3.83" fill="#9ee446"/>
<rect x="335.76" y="240.60" width="14.89" height="3.83" fill="#c8e850"/>
<rect x="48.39" y="244.28" width="3.83" height="3.83" fill="#5a38ea"/>
<rect x="52.08" y="244.28" width="3.83" height="3.83" fill="#c8e850"/>
<rect x="55.76" y="244.28" width="3.83" height="3.83" fill="#5a38ea"/>
<rect x="144.18" y="244.28" width="11.20" height="3.83" fill="#c8e850"/>
<rect x="155.24" y="244.28" width="3.83" height="3.83" fill="#5f80d8"/>
<rect x="280.50" y="244.28" width="3.83" height="3.83" fill="#9ee446"/>
<rect x="284.18" y="244.28" width="3.83" height="3.83" fill="#62a8a2"/>
<rect x="287.87" y="244.28" width="3.83" height="3.83" fill="#5f80d8"/>
<rect x="291.55" y="244.28" width="18.57" height="3.83" fill="#c8e850"/>
<rect x="309.97" y="244.28" width="3.83" height="3.83" fill="#7cd058"/>
<rect x="313.66" y="244.28" width="11.20" height="3.83" fill="#5f80d8"/>
<rect x="324.71" y="244.28" width="25.94" height="3.83" fill="#c8e850"/>
<rect x="48.39" y="247.97" width="3.83" height="3.83" fill="#5f80d8"/>
<rect x="52.08" y="247.97" width="3.83" height="3.83" fill="#c8e850"/>
<rect x="140.50" y="247.97" width="3.83" height="3.83" fill="#5a38ea"/>
<rect x="144.18" y="247.97" width="11.20" height="3.83" fill="#c8e850"/>
<rect x="280.50" y="247.97" width="3.83" height="3.83" fill="#7cd058"/>
<rect x="284.18" y="247.97" width="3.83" height="3.83" fill="#62a8a2"/>
<rect x="287.87" y="247.97" width="40.68" height="3.83" fill="#c8e850"/>
<rect x="328.39" y="247.97" width="7.52" height="3.83" fill="#5f80d8"/>
<rect x="335.76" y="247.97" width="3.83" height="3.83" fill="#c8e850"/>
<rect x="339.45" y="247.97" width="7.52" height="3.83" fill="#62a8a2"/>
<rect x="346.82" y="247.97" width="3.83" height="3.83" fill="#c8e850"/>
<rect x="48.39" y="251.65" width="3.83" height="3.83" fill="#5f80d8"/>
<rect x="52.08" y="251.65" width="3.83" height="3.83" fill="#9ee446"/>
<rect x="144.18" y="251.65" width="3.83" height="3.83" fill="#9ee446"/>
<rect x="147.87" y="251.65" width="3.83" height="3.83" fill="#c8e850"/>
<rect x="151.55" y="251.65" width="3.83" height="3.83" fill="#5f80d8"/>
<rect x="280.50" y="251.65" width="7.52" height="3.83" fill="#5f80d8"/>
<rect x="287.87" y="251.65" width="36.99" height="3.83" fill="#c8e850"/>
<rect x="324.71" y="251.65" width="3.83" height="3.83" fill="#5a38ea"/>
<rect x="48.39" y="255.34" width="3.83" height="3.83" fill="#5f80d8"/>
<rect x="52.08" y="255.34" width="3.83" height="3.83" fill="#9ee446"/>
<rect x="287.87" y="255.34" width="3.83" height="3.83" fill="#5a38ea"/>
<rect x="291.55" y="255.34" width="7.52" height="3.83" fill="#c8e850"/>
<rect x="298.92" y="255.34" width="7.52" height="3.83" fill="#9ee446"/>
<rect x="306.29" y="255.34" width="3.83" height="3.83" fill="#c8e850"/>
<rect x="309.97" y="255.34" width="3.83" height="3.83" fill="#9ee446"/>
<rect x="313.66" y="255.34" width="14.89" height="3.83" fill="#c8e850"/>
<rect x="328.39" y="255.34" width="3.83" height="3.83" fill="#5a38ea"/>
<rect x="48.39" y="259.02" width="3.83" height="3.83" fill="#5a38ea"/>
<rect x="52.08" y="259.02" width="3.83" height="3.83" fill="#9ee446"/>
<rect x="217.87" y="259.02" width="3.83" height="3.83" fill="#5a38ea"/>
<rect x="287.87" y="259.02" width="3.83" height="3.83" fill="#5f80d8"/>
<rect x="291.55" y="259.02" width="3.83" height="3.83" fill="#7cd058"/>
<rect x="295.24" y="259.02" width="3.83" height="3.83" fill="#5f80d8"/>
<rect x="298.92" y="259.02" width="3.83" height="3.83" fill="#62a8a2"/>
<rect x="302.61" y="259.02" width="3.83" height="3.83" fill="#5a38ea"/>
<rect x="306.29" y="259.02" width="3.83" height="3.83" fill="#5f80d8"/>
<rect x="309.97" y="259.02" width="3.83" height="3.83" fill="#7cd058"/>
<rect x="313.66" y="259.02" width="3.83" height="3.83" fill="#9ee446"/>
<rect x="317.34" y="259.02" width="14.89" height="3.83" fill="#c8e850"/>
<rect x="332.08" y="259.02" width="3.83" height="3.83" fill="#62a8a2"/>
<rect x="217.87" y="262.71" width="3.83" height="3.83" fill="#5a38ea"/>
<rect x="221.55" y="262.71" width="3.83" height="3.83" fill="#9ee446"/>
<rect x="225.24" y="262.71" width="7.52" height="3.83" fill="#62a8a2"/>
<rect x="284.18" y="262.71" width="3.83" height="3.83" fill="#5f80d8"/>
<rect x="287.87" y="262.71" width="3.83" height="3.83" fill="#62a8a2"/>
<rect x="295.24" y="262.71" width="3.83" height="3.83" fill="#5a38ea"/>
<rect x="309.97" y="262.71" width="3.83" height="3.83" fill="#5a38ea"/>
<rect x="313.66" y="262.71" width="3.83" height="3.83" fill="#c8e850"/>
<rect x="317.34" y="262.71" width="7.52" height="3.83" fill="#9ee446"/>
<rect x="324.71" y="262.71" width="18.57" height="3.83" fill="#c8e850"/>
<rect x="343.13" y="262.71" width="3.83" height="3.83" fill="#5f80d8"/>
<rect x="346.82" y="262.71" width="3.83" height="3.83" fill="#c8e850"/>
<rect x="221.55" y="266.39" width="3.83" height="3.83" fill="#62a8a2"/>
<rect x="225.24" y="266.39" width="3.83" height="3.83" fill="#9ee446"/>
<rect x="228.92" y="266.39" width="7.52" height="3.83" fill="#7cd058"/>
<rect x="280.50" y="266.39" width="3.83" height="3.83" fill="#5a38ea"/>
<rect x="313.66" y="266.39" width="3.83" height="3.83" fill="#5f80d8"/>
<rect x="317.34" y="266.39" width="3.83" height="3.83" fill="#c8e850"/>
<rect x="321.03" y="266.39" width="3.83" height="3.83" fill="#9ee446"/>
<rect x="324.71" y="266.39" width="3.83" height="3.83" fill="#7cd058"/>
<rect x="328.39" y="266.39" width="22.26" height="3.83" fill="#c8e850"/>
<rect x="225.24" y="270.07" width="3.83" height="3.83" fill="#62a8a2"/>
<rect x="228.92" y="270.07" width="7.52" height="3.83" fill="#c8e850"/>
<rect x="236.29" y="270.07" width="3.83" height="3.83" fill="#9ee446"/>
<rect x="239.97" y="270.07" width="3.83" height="3.83" fill="#5a38ea"/>
<rect x="309.97" y="270.07" width="3.83" height="3.83" fill="#5f80d8"/>
<rect x="313.66" y="270.07" width="14.89" height="3.83" fill="#c8e850"/>
<rect x="328.39" y="270.07" width="3.83" height="3.83" fill="#9ee446"/>
<rect x="332.08" y="270.07" width="18.57" height="3.83" fill="#c8e850"/>
<rect x="228.92" y="273.76" width="3.83" height="3.83" fill="#9ee446"/>
<rect x="232.61" y="273.76" width="7.52" height="3.83" fill="#c8e850"/>
<rect x="239.97" y="273.76" width="3.83" height="3.83" fill="#9ee446"/>
<rect x="243.66" y="273.76" width="3.83" height="3.83" fill="#5a38ea"/>
<rect x="309.97" y="273.76" width="3.83" height="3.83" fill="#9ee446"/>
<rect x="313.66" y="273.76" width="36.99" height="3.83" fill="#c8e850"/>
<rect x="236.29" y="277.44" width="3.83" height="3.83" fill="#5f80d8"/>
<rect x="239.97" y="277.44" width="3.83" height="3.83" fill="#62a8a2"/>
<rect x="243.66" y="277.44" width="3.83" height="3.83" fill="#9ee446"/>
<rect x="247.34" y="277.44" width="3.83" height="3.83" fill="#5a38ea"/>
<rect x="313.66" y="277.44" width="3.83" height="3.83" fill="#62a8a2"/>
<rect x="317.34" y="277.44" width="3.83" height="3.83" fill="#c8e850"/>
<rect x="321.03" y="277.44" width="7.52" height="3.83" fill="#9ee446"/>
<rect x="328.39" y="277.44" width="22.26" height="3.83" fill="#c8e850"/>
<rect x="328.39" y="281.13" width="3.83" height="3.83" fill="#5a38ea"/>
<rect x="332.08" y="281.13" width="18.57" height="3.83" fill="#c8e850"/>
<rect x="332.08" y="284.81" width="3.83" height="3.83" fill="#9ee446"/>
<rect x="335.76" y="284.81" width="14.89" height="3.83" fill="#c8e850"/>
<rect x="59.45" y="288.49" width="3.83" height="3.83" fill="#5f80d8"/>
<rect x="63.13" y="288.49" width="3.83" height="3.83" fill="#7cd058"/>
<rect x="317.34" y="288.49" width="3.83" height="3.83" fill="#5f80d8"/>
<rect x="321.03" y="288.49" width="7.52" height="3.83" fill="#c8e850"/>
<rect x="335.76" y="288.49" width="3.83" height="3.83" fill="#62a8a2"/>
<rect x="339.45" y="288.49" width="11.20" height="3.83" fill="#c8e850"/>
<rect x="48.39" y="292.18" width="3.83" height="3.83" fill="#5a38ea"/>
<rect x="52.08" y="292.18" width="7.52" height="3.83" fill="#c8e850"/>
<rect x="59.45" y="292.18" width="3.83" height="3.83" fill="#9ee446"/>
<rect x="287.87" y="292.18" width="3.83" height="3.83" fill="#5a38ea"/>
<rect x="291.55" y="292.18" width="3.83" height="3.83" fill="#5f80d8"/>
<rect x="295.24" y="292.18" width="3.83" height="3.83" fill="#62a8a2"/>
<rect x="321.03" y="292.18" width="7.52" height="3.83" fill="#c8e850"/>
<rect x="328.39" y="292.18" width="3.83" height="3.83" fill="#9ee446"/>
<rect x="339.45" y="292.18" width="3.83" height="3.83" fill="#c8e850"/>
<rect x="343.13" y="292.18" width="3.83" height="3.83" fill="#5f80d8"/>
<rect x="346.82" y="292.18" width="3.83" height="3.83" fill="#c8e850"/>
<rect x="15.24" y="295.86" width="3.83" height="3.83" fill="#9ee446"/>
<rect x="18.92" y="295.86" width="3.83" height="3.83" fill="#c8e850"/>
<rect x="22.61" y="295.86" width="7.52" height="3.83" fill="#5f80d8"/>
<rect x="29.97" y="295.86" width="3.83" height="3.83" fill="#5a38ea"/>
<rect x="41.03" y="295.86" width="3.83" height="3.83" fill="#5a38ea"/>
<rect x="44.71" y="295.86" width="7.52" height="3.83" fill="#c8e850"/>
<rect x="52.08" y="295.86" width="3.83" height="3.83" fill="#62a8a2"/>
<rect x="291.55" y="295.86" width="3.83" height="3.83" fill="#62a8a2"/>
<rect x="295.24" y="295.86" width="3.83" height="3.83" fill="#c8e850"/>
<rect x="298.92" y="295.86" width="3.83" height="3.83" fill="#5a38ea"/>
<rect x="321.03" y="295.86" width="3.83" height="3.83" fill="#9ee446"/>
<rect x="324.71" y="295.86" width="7.52" height="3.83" fill="#c8e850"/>
<rect x="343.13" y="295.86" width="7.52" height="3.83" fill="#c8e850"/>
<rect x="0.50" y="299.55" width="3.83" height="3.83" fill="#5a38ea"/>
<rect x="4.18" y="299.55" width="14.89" height="3.83" fill="#c8e850"/>
<rect x="18.92" y="299.55" width="3.83" height="3.83" fill="#7cd058"/>
<rect x="37.34" y="299.55" width="3.83" height="3.83" fill="#9ee446"/>
<rect x="41.03" y="299.55" width="7.52" height="3.83" fill="#c8e850"/>
<rect x="70.50" y="299.55" width="3.83" height="3.83" fill="#5a38ea"/>
<rect x="291.55" y="299.55" width="3.83" height="3.83" fill="#62a8a2"/>
<rect x="295.24" y="299.55" width="7.52" height="3.83" fill="#9ee446"/>
<rect x="324.71" y="299.55" width="3.83" height="3.83" fill="#5f80d8"/>
<rect x="328.39" y="299.55" width="3.83" height="3.83" fill="#c8e850"/>
<rect x="332.08" y="299.55" width="11.20" height="3.83" fill="#5a38ea"/>
<rect x="29.97" y="303.23" width="3.83" height="3.83" fill="#5f80d8"/>
<rect x="33.66" y="303.23" width="7.52" height="3.83" fill="#c8e850"/>
<rect x="70.50" y="303.23" width="3.83" height="3.83" fill="#5a38ea"/>
<rect x="291.55" y="303.23" width="3.83" height="3.83" fill="#5f80d8"/>
<rect x="295.24" y="303.23" width="7.52" height="3.83" fill="#c8e850"/>
<rect x="302.61" y="303.23" width="3.83" height="3.83" fill="#9ee446"/>
<rect x="328.39" y="303.23" width="14.89" height="3.83" fill="#c8e850"/>
<rect x="77.87" y="306.92" width="3.83" height="3.83" fill="#5f80d8"/>
<rect x="291.55" y="306.92" width="3.83" height="3.83" fill="#5a38ea"/>
<rect x="295.24" y="306.92" width="11.20" height="3.83" fill="#c8e850"/>
<rect x="306.29" y="306.92" width="3.83" height="3.83" fill="#5a38ea"/>
<rect x="328.39" y="306.92" width="18.57" height="3.83" fill="#c8e850"/>
<rect x="346.82" y="306.92" width="3.83" height="3.83" fill="#9ee446"/>
<rect x="66.82" y="310.60" width="7.52" height="3.83" fill="#5a38ea"/>
<rect x="74.18" y="310.60" width="3.83" height="3.83" fill="#9ee446"/>
<rect x="77.87" y="310.60" width="3.83" height="3.83" fill="#c8e850"/>
<rect x="81.55" y="310.60" width="3.83" height="3.83" fill="#5f80d8"/>
<rect x="85.24" y="310.60" width="3.83" height="3.83" fill="#5a38ea"/>
<rect x="295.24" y="310.60" width="3.83" height="3.83" fill="#5a38ea"/>
<rect x="298.92" y="310.60" width="3.83" height="3.83" fill="#7cd058"/>
<rect x="302.61" y="310.60" width="3.83" height="3.83" fill="#62a8a2"/>
<rect x="306.29" y="310.60" width="3.83" height="3.83" fill="#5f80d8"/>
<rect x="309.97" y="310.60" width="3.83" height="3.83" fill="#5a38ea"/>
<rect x="343.13" y="310.60" width="3.83" height="3.83" fill="#c8e850"/>
<rect x="346.82" y="310.60" width="3.83" height="3.83" fill="#7cd058"/>
<rect x="66.82" y="314.28" width="3.83" height="3.83" fill="#5f80d8"/>
<rect x="70.50" y="314.28" width="3.83" height="3.83" fill="#62a8a2"/>
<rect x="74.18" y="314.28" width="14.89" height="3.83" fill="#c8e850"/>
<rect x="88.92" y="314.28" width="3.83" height="3.83" fill="#5f80d8"/>
<rect x="298.92" y="314.28" width="3.83" height="3.83" fill="#62a8a2"/>
<rect x="302.61" y="314.28" width="3.83" height="3.83" fill="#7cd058"/>
<rect x="306.29" y="314.28" width="3.83" height="3.83" fill="#5f80d8"/>
<rect x="309.97" y="314.28" width="3.83" height="3.83" fill="#62a8a2"/>
<rect x="343.13" y="314.28" width="7.52" height="3.83" fill="#c8e850"/>
<rect x="66.82" y="317.97" width="3.83" height="3.83" fill="#5f80d8"/>
<rect x="70.50" y="317.97" width="7.52" height="3.83" fill="#9ee446"/>
<rect x="77.87" y="317.97" width="14.89" height="3.83" fill="#c8e850"/>
<rect x="92.61" y="317.97" width="3.83" height="3.83" fill="#9ee446"/>
<rect x="96.29" y="317.97" width="3.83" height="3.83" fill="#7cd058"/>
<rect x="99.97" y="317.97" width="3.83" height="3.83" fill="#9ee446"/>
<rect x="103.66" y="317.97" width="3.83" height="3.83" fill="#62a8a2"/>
<rect x="107.34" y="317.97" width="3.83" height="3.83" fill="#5a38ea"/>
<rect x="302.61" y="317.97" width="3.83" height="3.83" fill="#62a8a2"/>
<rect x="306.29" y="317.97" width="3.83" height="3.83" fill="#c8e850"/>
<rect x="309.97" y="317.97" width="3.83" height="3.83" fill="#9ee446"/>
<rect x="343.13" y="317.97" width="3.83" height="3.83" fill="#5f80d8"/>
<rect x="346.82" y="317.97" width="3.83" height="3.83" fill="#c8e850"/>
<rect x="66.82" y="321.65" width="3.83" height="3.83" fill="#5f80d8"/>
<rect x="70.50" y="321.65" width="3.83" height="3.83" fill="#62a8a2"/>
<rect x="74.18" y="321.65" width="18.57" height="3.83" fill="#c8e850"/>
<rect x="92.61" y="321.65" width="3.83" height="3.83" fill="#9ee446"/>
<rect x="96.29" y="321.65" width="14.89" height="3.83" fill="#5f80d8"/>
<rect x="140.50" y="321.65" width="3.83" height="3.83" fill="#5a38ea"/>
<rect x="306.29" y="321.65" width="3.83" height="3.83" fill="#62a8a2"/>
<rect x="309.97" y="321.65" width="3.83" height="3.83" fill="#7cd058"/>
<rect x="313.66" y="321.65" width="3.83" height="3.83" fill="#5a38ea"/>
<rect x="346.82" y="321.65" width="3.83" height="3.83" fill="#c8e850"/>
<rect x="66.82" y="325.34" width="3.83" height="3.83" fill="#5a38ea"/>
<rect x="70.50" y="325.34" width="3.83" height="3.83" fill="#62a8a2"/>
<rect x="74.18" y="325.34" width="3.83" height="3.83" fill="#9ee446"/>
<rect x="77.87" y="325.34" width="3.83" height="3.83" fill="#62a8a2"/>
<rect x="81.55" y="325.34" width="3.83" height="3.83" fill="#5f80d8"/>
<rect x="85.24" y="325.34" width="7.52" height="3.83" fill="#c8e850"/>
<rect x="343.13" y="325.34" width="3.83" height="3.83" fill="#5a38ea"/>
<rect x="346.82" y="325.34" width="3.83" height="3.83" fill="#c8e850"/>
<rect x="66.82" y="329.02" width="3.83" height="3.83" fill="#9ee446"/>
<rect x="74.18" y="329.02" width="3.83" height="3.83" fill="#9ee446"/>
<rect x="85.24" y="329.02" width="3.83" height="3.83" fill="#5a38ea"/>
<rect x="88.92" y="329.02" width="3.83" height="3.83" fill="#62a8a2"/>
<rect x="133.13" y="329.02" width="3.83" height="3.83" fill="#5a38ea"/>
<rect x="136.82" y="329.02" width="3.83" height="3.83" fill="#62a8a2"/>
<rect x="343.13" y="329.02" width="7.52" height="3.83" fill="#c8e850"/>
<rect x="63.13" y="332.71" width="3.83" height="3.83" fill="#5f80d8"/>
<rect x="66.82" y="332.71" width="3.83" height="3.83" fill="#c8e850"/>
<rect x="74.18" y="332.71" width="3.83" height="3.83" fill="#9ee446"/>
<rect x="85.24" y="332.71" width="7.52" height="3.83" fill="#c8e850"/>
<rect x="92.61" y="332.71" width="3.83" height="3.83" fill="#5f80d8"/>
<rect x="129.45" y="332.71" width="3.83" height="3.83" fill="#5a38ea"/>
<rect x="133.13" y="332.71" width="7.52" height="3.83" fill="#5f80d8"/>
<rect x="335.76" y="332.71" width="3.83" height="3.83" fill="#7cd058"/>
<rect x="339.45" y="332.71" width="11.20" height="3.83" fill="#c8e850"/>
<rect x="59.45" y="336.39" width="3.83" height="3.83" fill="#5f80d8"/>
<rect x="63.13" y="336.39" width="3.83" height="3.83" fill="#62a8a2"/>
<rect x="66.82" y="336.39" width="3.83" height="3.83" fill="#c8e850"/>
<rect x="74.18" y="336.39" width="3.83" height="3.83" fill="#62a8a2"/>
<rect x="77.87" y="336.39" width="3.83" height="3.83" fill="#5a38ea"/>
<rect x="85.24" y="336.39" width="11.20" height="3.83" fill="#c8e850"/>
<rect x="125.76" y="336.39" width="7.52" height="3.83" fill="#62a8a2"/>
<rect x="133.13" y="336.39" width="3.83" height="3.83" fill="#9ee446"/>
<rect x="136.82" y="336.39" width="3.83" height="3.83" fill="#5f80d8"/>
<rect x="324.71" y="336.39" width="3.83" height="3.83" fill="#62a8a2"/>
<rect x="328.39" y="336.39" width="11.20" height="3.83" fill="#c8e850"/>
<rect x="339.45" y="336.39" width="3.83" height="3.83" fill="#9ee446"/>
<rect x="343.13" y="336.39" width="7.52" height="3.83" fill="#c8e850"/>
<rect x="55.76" y="340.07" width="3.83" height="3.83" fill="#5a38ea"/>
<rect x="63.13" y="340.07" width="3.83" height="3.83" fill="#5a38ea"/>
<rect x="66.82" y="340.07" width="3.83" height="3.83" fill="#c8e850"/>
<rect x="70.50" y="340.07" width="11.20" height="3.83" fill="#5f80d8"/>
<rect x="85.24" y="340.07" width="11.20" height="3.83" fill="#c8e850"/>
<rect x="122.08" y="340.07" width="3.83" height="3.83" fill="#62a8a2"/>
<rect x="125.76" y="340.07" width="3.83" height="3.83" fill="#9ee446"/>
<rect x="129.45" y="340.07" width="3.83" height="3.83" fill="#c8e850"/>
<rect x="133.13" y="340.07" width="3.83" height="3.83" fill="#5a38ea"/>
<rect x="306.29" y="340.07" width="3.83" height="3.83" fill="#5f80d8"/>
<rect x="309.97" y="340.07" width="11.20" height="3.83" fill="#c8e850"/>
<rect x="321.03" y="340.07" width="7.52" height="3.83" fill="#9ee446"/>
<rect x="328.39" y="340.07" width="3.83" height="3.83" fill="#62a8a2"/>
<rect x="335.76" y="340.07" width="3.83" height="3.83" fill="#5a38ea"/>
<rect x="339.45" y="340.07" width="11.20" height="3.83" fill="#c8e850"/>
<rect x="66.82" y="343.76" width="7.52" height="3.83" fill="#c8e850"/>
<rect x="74.18" y="343.76" width="3.83" height="3.83" fill="#5a38ea"/>
<rect x="77.87" y="343.76" width="3.83" height="3.83" fill="#9ee446"/>
<rect x="85.24" y="343.76" width="11.20" height="3.83" fill="#c8e850"/>
<rect x="114.71" y="343.76" width="3.83" height="3.83" fill="#5f80d8"/>
<rect x="118.39" y="343.76" width="3.83" height="3.83" fill="#7cd058"/>
<rect x="122.08" y="343.76" width="3.83" height="3.83" fill="#5f80d8"/>
<rect x="125.76" y="343.76" width="7.52" height="3.83" fill="#c8e850"/>
<rect x="133.13" y="343.76" width="3.83" height="3.83" fill="#5a38ea"/>
<rect x="295.24" y="343.76" width="3.83" height="3.83" fill="#5a38ea"/>
<rect x="298.92" y="343.76" width="3.83" height="3.83" fill="#9ee446"/>
<rect x="302.61" y="343.76" width="7.52" height="3.83" fill="#c8e850"/>
<rect x="309.97" y="343.76" width="3.83" height="3.83" fill="#7cd058"/>
<rect x="313.66" y="343.76" width="3.83" height="3.83" fill="#5f80d8"/>
<rect x="321.03" y="343.76" width="3.83" height="3.83" fill="#5a38ea"/>
<rect x="324.71" y="343.76" width="11.20" height="3.83" fill="#c8e850"/>
<rect x="339.45" y="343.76" width="11.20" height="3.83" fill="#c8e850"/>
<rect x="66.82" y="347.44" width="3.83" height="3.83" fill="#c8e850"/>
<rect x="70.50" y="347.44" width="3.83" height="3.83" fill="#5a38ea"/>
<rect x="77.87" y="347.44" width="3.83" height="3.83" fill="#c8e850"/>
<rect x="81.55" y="347.44" width="3.83" height="3.83" fill="#5f80d8"/>
<rect x="85.24" y="347.44" width="11.20" height="3.83" fill="#c8e850"/>
<rect x="96.29" y="347.44" width="3.83" height="3.83" fill="#5a38ea"/>
<rect x="111.03" y="347.44" width="3.83" height="3.83" fill="#5a38ea"/>
<rect x="114.71" y="347.44" width="7.52" height="3.83" fill="#5f80d8"/>
<rect x="122.08" y="347.44" width="11.20" height="3.83" fill="#c8e850"/>
<rect x="133.13" y="347.44" width="3.83" height="3.83" fill="#5f80d8"/>
<rect x="295.24" y="347.44" width="3.83" height="3.83" fill="#5f80d8"/>
<rect x="298.92" y="347.44" width="3.83" height="3.83" fill="#5a38ea"/>
<rect x="321.03" y="347.44" width="3.83" height="3.83" fill="#5f80d8"/>
<rect x="324.71" y="347.44" width="11.20" height="3.83" fill="#c8e850"/>
<rect x="335.76" y="347.44" width="3.83" height="3.83" fill="#9ee446"/>
<rect x="339.45" y="347.44" width="11.20" height="3.83" fill="#c8e850"/>
<rect x="77.87" y="351.13" width="3.83" height="3.83" fill="#7cd058"/>
<rect x="81.55" y="351.13" width="3.83" height="3.83" fill="#9ee446"/>
<rect x="85.24" y="351.13" width="11.20" height="3.83" fill="#c8e850"/>
<rect x="96.29" y="351.13" width="3.83" height="3.83" fill="#62a8a2"/>
<rect x="107.34" y="351.13" width="3.83" height="3.83" fill="#5f80d8"/>
<rect x="111.03" y="351.13" width="3.83" height="3.83" fill="#9ee446"/>
<rect x="114.71" y="351.13" width="3.83" height="3.83" fill="#5f80d8"/>
<rect x="118.39" y="351.13" width="14.89" height="3.83" fill="#c8e850"/>
<rect x="133.13" y="351.13" width="3.83" height="3.83" fill="#9ee446"/>
<rect x="313.66" y="351.13" width="3.83" height="3.83" fill="#62a8a2"/>
<rect x="317.34" y="351.13" width="33.31" height="3.83" fill="#c8e850"/>
<rect x="66.82" y="354.81" width="3.83" height="3.83" fill="#c8e850"/>
<rect x="77.87" y="354.81" width="3.83" height="3.83" fill="#5f80d8"/>
<rect x="81.55" y="354.81" width="14.89" height="3.83" fill="#c8e850"/>
<rect x="96.29" y="354.81" width="3.83" height="3.83" fill="#9ee446"/>
<rect x="107.34" y="354.81" width="3.83" height="3.83" fill="#7cd058"/>
<rect x="111.03" y="354.81" width="3.83" height="3.83" fill="#5f80d8"/>
<rect x="114.71" y="354.81" width="22.26" height="3.83" fill="#c8e850"/>
<rect x="295.24" y="354.81" width="7.52" height="3.83" fill="#c8e850"/>
<rect x="302.61" y="354.81" width="3.83" height="3.83" fill="#5f80d8"/>
<rect x="328.39" y="354.81" width="7.52" height="3.83" fill="#5a38ea"/>
<rect x="335.76" y="354.81" width="3.83" height="3.83" fill="#9ee446"/>
<rect x="339.45" y="354.81" width="3.83" height="3.83" fill="#7cd058"/>
<rect x="343.13" y="354.81" width="3.83" height="3.83" fill="#9ee446"/>
<rect x="346.82" y="354.81" width="3.83" height="3.83" fill="#7cd058"/>
<rect x="63.13" y="358.49" width="3.83" height="3.83" fill="#62a8a2"/>
<rect x="66.82" y="358.49" width="3.83" height="3.83" fill="#c8e850"/>
<rect x="77.87" y="358.49" width="3.83" height="3.83" fill="#5a38ea"/>
<rect x="81.55" y="358.49" width="11.20" height="3.83" fill="#c8e850"/>
<rect x="92.61" y="358.49" width="3.83" height="3.83" fill="#9ee446"/>
<rect x="96.29" y="358.49" width="3.83" height="3.83" fill="#c8e850"/>
<rect x="99.97" y="358.49" width="3.83" height="3.83" fill="#5a38ea"/>
<rect x="103.66" y="358.49" width="7.52" height="3.83" fill="#9ee446"/>
<rect x="111.03" y="358.49" width="22.26" height="3.83" fill="#c8e850"/>
<rect x="133.13" y="358.49" width="3.83" height="3.83" fill="#7cd058"/>
<rect x="284.18" y="358.49" width="7.52" height="3.83" fill="#c8e850"/>
<rect x="335.76" y="358.49" width="3.83" height="3.83" fill="#5f80d8"/>
<rect x="63.13" y="362.18" width="7.52" height="3.83" fill="#c8e850"/>
<rect x="81.55" y="362.18" width="11.20" height="3.83" fill="#c8e850"/>
<rect x="92.61" y="362.18" width="3.83" height="3.83" fill="#5a38ea"/>
<rect x="96.29" y="362.18" width="3.83" height="3.83" fill="#9ee446"/>
<rect x="99.97" y="362.18" width="3.83" height="3.83" fill="#62a8a2"/>
<rect x="103.66" y="362.18" width="3.83" height="3.83" fill="#5a38ea"/>
<rect x="107.34" y="362.18" width="3.83" height="3.83" fill="#9ee446"/>
<rect x="111.03" y="362.18" width="3.83" height="3.83" fill="#c8e850"/>
<rect x="114.71" y="362.18" width="3.83" height="3.83" fill="#9ee446"/>
<rect x="118.39" y="362.18" width="7.52" height="3.83" fill="#5f80d8"/>
<rect x="125.76" y="362.18" width="3.83" height="3.83" fill="#5a38ea"/>
<rect x="280.50" y="362.18" width="3.83" height="3.83" fill="#c8e850"/>
<rect x="59.45" y="365.86" width="7.52" height="3.83" fill="#c8e850"/>
<rect x="66.82" y="365.86" width="3.83" height="3.83" fill="#9ee446"/>
<rect x="81.55" y="365.86" width="11.20" height="3.83" fill="#c8e850"/>
<rect x="92.61" y="365.86" width="3.83" height="3.83" fill="#5a38ea"/>
<rect x="96.29" y="365.86" width="3.83" height="3.83" fill="#7cd058"/>
<rect x="103.66" y="365.86" width="3.83" height="3.83" fill="#9ee446"/>
<rect x="107.34" y="365.86" width="3.83" height="3.83" fill="#62a8a2"/>
<rect x="144.18" y="365.86" width="3.83" height="3.83" fill="#5a38ea"/>
<rect x="210.50" y="365.86" width="3.83" height="3.83" fill="#7cd058"/>
<rect x="214.18" y="365.86" width="3.83" height="3.83" fill="#5a38ea"/>
<rect x="221.55" y="365.86" width="3.83" height="3.83" fill="#5a38ea"/>
<rect x="55.76" y="369.55" width="3.83" height="3.83" fill="#9ee446"/>
<rect x="59.45" y="369.55" width="3.83" height="3.83" fill="#c8e850"/>
<rect x="63.13" y="369.55" width="3.83" height="3.83" fill="#5f80d8"/>
<rect x="81.55" y="369.55" width="3.83" height="3.83" fill="#9ee446"/>
<rect x="85.24" y="369.55" width="7.52" height="3.83" fill="#c8e850"/>
<rect x="92.61" y="369.55" width="7.52" height="3.83" fill="#5f80d8"/>
<rect x="103.66" y="369.55" width="3.83" height="3.83" fill="#c8e850"/>
<rect x="107.34" y="369.55" width="3.83" height="3.83" fill="#62a8a2"/>
<rect x="144.18" y="369.55" width="3.83" height="3.83" fill="#5f80d8"/>
<rect x="147.87" y="369.55" width="3.83" height="3.83" fill="#62a8a2"/>
<rect x="210.50" y="369.55" width="3.83" height="3.83" fill="#62a8a2"/>
<rect x="214.18" y="369.55" width="7.52" height="3.83" fill="#7cd058"/>
<rect x="221.55" y="369.55" width="3.83" height="3.83" fill="#62a8a2"/>
<rect x="225.24" y="369.55" width="3.83" height="3.83" fill="#5f80d8"/>
<rect x="52.08" y="373.23" width="3.83" height="3.83" fill="#5f80d8"/>
<rect x="55.76" y="373.23" width="7.52" height="3.83" fill="#c8e850"/>
<rect x="63.13" y="373.23" width="3.83" height="3.83" fill="#5f80d8"/>
<rect x="81.55" y="373.23" width="3.83" height="3.83" fill="#7cd058"/>
<rect x="85.24" y="373.23" width="11.20" height="3.83" fill="#c8e850"/>
<rect x="96.29" y="373.23" width="3.83" height="3.83" fill="#5a38ea"/>
<rect x="99.97" y="373.23" width="3.83" height="3.83" fill="#7cd058"/>
<rect x="103.66" y="373.23" width="3.83" height="3.83" fill="#5a38ea"/>
<rect x="140.50" y="373.23" width="7.52" height="3.83" fill="#5a38ea"/>
<rect x="147.87" y="373.23" width="3.83" height="3.83" fill="#c8e850"/>
<rect x="151.55" y="373.23" width="3.83" height="3.83" fill="#62a8a2"/>
<rect x="214.18" y="373.23" width="3.83" height="3.83" fill="#62a8a2"/>
<rect x="217.87" y="373.23" width="3.83" height="3.83" fill="#9ee446"/>
<rect x="221.55" y="373.23" width="7.52" height="3.83" fill="#62a8a2"/>
<rect x="228.92" y="373.23" width="3.83" height="3.83" fill="#5a38ea"/>
<rect x="11.55" y="376.92" width="3.83" height="3.83" fill="#5a38ea"/>
<rect x="15.24" y="376.92" width="3.83" height="3.83" fill="#9ee446"/>
<rect x="52.08" y="376.92" width="3.83" height="3.83" fill="#c8e850"/>
<rect x="55.76" y="376.92" width="3.83" height="3.83" fill="#9ee446"/>
<rect x="59.45" y="376.92" width="3.83" height="3.83" fill="#62a8a2"/>
<rect x="81.55" y="376.92" width="3.83" height="3.83" fill="#5a38ea"/>
<rect x="85.24" y="376.92" width="11.20" height="3.83" fill="#c8e850"/>
<rect x="96.29" y="376.92" width="3.83" height="3.83" fill="#5a38ea"/>
<rect x="99.97" y="376.92" width="3.83" height="3.83" fill="#62a8a2"/>
<rect x="140.50" y="376.92" width="3.83" height="3.83" fill="#5f80d8"/>
<rect x="147.87" y="376.92" width="3.83" height="3.83" fill="#62a8a2"/>
<rect x="151.55" y="376.92" width="3.83" height="3.83" fill="#c8e850"/>
<rect x="155.24" y="376.92" width="3.83" height="3.83" fill="#9ee446"/>
<rect x="217.87" y="376.92" width="3.83" height="3.83" fill="#62a8a2"/>
<rect x="221.55" y="376.92" width="3.83" height="3.83" fill="#7cd058"/>
<rect x="225.24" y="376.92" width="7.52" height="3.83" fill="#62a8a2"/>
<rect x="232.61" y="376.92" width="3.83" height="3.83" fill="#5a38ea"/>
</g>
<g stroke="#222" stroke-width="0.6" fill="none">
<line x1="70.5" y1="31" x2="70.5" y2="381"/>
<line x1="0.6" y1="100.5" x2="350.6" y2="100.5"/>
<line x1="140.4" y1="31" x2="140.4" y2="381"/>
<line x1="0.6" y1="170.4" x2="350.6" y2="170.4"/>
<line x1="210.4" y1="31" x2="210.4" y2="381"/>
<line x1="0.6" y1="240.4" x2="350.6" y2="240.4"/>
<line x1="280.4" y1="31" x2="280.4" y2="381"/>
<line x1="0.6" y1="310.4" x2="350.6" y2="310.4"/>
</g>
<rect x="0.4" y="31" width="349.9" height="349.5" fill="none" stroke="#000" stroke-width="1.6"/>
<rect x="70.4" y="31" width="70" height="69.5" fill="none" stroke="#000" stroke-width="1.2"/>
<line x1="140.4" y1="31" x2="387.5" y2="31" stroke="#000" stroke-width="0.9"/>
<line x1="140.4" y1="100.6" x2="387.5" y2="201" stroke="#000" stroke-width="0.85"/>
<rect x="308.1" y="372.9" width="36.8" height="2.3" fill="#000"/>
<text class="lbl" x="3" y="44.6">a</text>
<rect x="96.3" y="13.5" width="167.5" height="10.8" fill="url(#gI)" stroke="#333" stroke-width="1"/>
<text class="t10" x="134.7" y="8.6" textLength="88.4" lengthAdjust="spacingAndGlyphs">intensity (counts)</text>
<text class="t10" x="47.6" y="24.6" textLength="41.2" lengthAdjust="spacingAndGlyphs">0.8x10<tspan dy="-3.3" font-size="9.2">4</tspan></text>
<text class="t10" x="266.6" y="24.6" textLength="38.5" lengthAdjust="spacingAndGlyphs">1.7x10<tspan dy="-3.3" font-size="9.2">4</tspan></text>
<g id="panel-b" shape-rendering="crispEdges">
<rect x="521.03" y="39.62" width="9.07" height="9.07" fill="#60a0c0"/>
<rect x="529.95" y="39.62" width="9.07" height="9.07" fill="#68b098"/>
<rect x="512.11" y="48.54" width="9.07" height="9.07" fill="#6088d0"/>
<rect x="521.03" y="48.54" width="9.07" height="9.07" fill="#90e040"/>
<rect x="503.19" y="57.47" width="9.07" height="9.07" fill="#68b890"/>
<rect x="512.11" y="57.47" width="9.07" height="9.07" fill="#a0e848"/>
<rect x="521.03" y="57.47" width="9.07" height="9.07" fill="#6080d8"/>
<rect x="387.20" y="66.39" width="9.07" height="9.07" fill="#5a5ae8"/>
<rect x="494.26" y="66.39" width="9.07" height="9.07" fill="#5a38e8"/>
<rect x="503.19" y="66.39" width="9.07" height="9.07" fill="#b8e850"/>
<rect x="512.11" y="66.39" width="9.07" height="9.07" fill="#78c868"/>
<rect x="387.20" y="75.31" width="9.07" height="9.07" fill="#c8e850"/>
<rect x="396.12" y="75.31" width="9.07" height="9.07" fill="#b8e850"/>
<rect x="405.04" y="75.31" width="9.07" height="9.07" fill="#78d060"/>
<rect x="413.97" y="75.31" width="9.07" height="9.07" fill="#5a8ac8"/>
<rect x="494.26" y="75.31" width="9.07" height="9.07" fill="#78d840"/>
<rect x="503.19" y="75.31" width="9.07" height="9.07" fill="#90e040"/>
<rect x="512.11" y="75.31" width="9.07" height="9.07" fill="#5a30e0"/>
<rect x="387.20" y="84.23" width="26.92" height="9.07" fill="#c8e850"/>
<rect x="413.97" y="84.23" width="9.07" height="9.07" fill="#b0e850"/>
<rect x="422.89" y="84.23" width="9.07" height="9.07" fill="#6ab888"/>
<rect x="485.34" y="84.23" width="9.07" height="9.07" fill="#5a28e0"/>
<rect x="494.26" y="84.23" width="9.07" height="9.07" fill="#88e040"/>
<rect x="503.19" y="84.23" width="9.07" height="9.07" fill="#60a0a8"/>
<rect x="387.20" y="93.15" width="9.07" height="9.07" fill="#7cd060"/>
<rect x="396.12" y="93.15" width="9.07" height="9.07" fill="#a8e850"/>
<rect x="405.04" y="93.15" width="26.92" height="9.07" fill="#c8e850"/>
<rect x="431.81" y="93.15" width="9.07" height="9.07" fill="#5a88c8"/>
<rect x="485.34" y="93.15" width="9.07" height="9.07" fill="#60a0a8"/>
<rect x="494.26" y="93.15" width="9.07" height="9.07" fill="#78d050"/>
<rect x="387.20" y="102.08" width="9.07" height="9.07" fill="#5aa0a8"/>
<rect x="396.12" y="102.08" width="9.07" height="9.07" fill="#5aa8a0"/>
<rect x="405.04" y="102.08" width="9.07" height="9.07" fill="#78d848"/>
<rect x="413.97" y="102.08" width="26.92" height="9.07" fill="#c8e850"/>
<rect x="440.73" y="102.08" width="9.07" height="9.07" fill="#68b098"/>
<rect x="485.34" y="102.08" width="9.07" height="9.07" fill="#60a0b0"/>
<rect x="494.26" y="102.08" width="9.07" height="9.07" fill="#6088d0"/>
<rect x="405.04" y="111.00" width="9.07" height="9.07" fill="#5a4af0"/>
<rect x="413.97" y="111.00" width="9.07" height="9.07" fill="#68c088"/>
<rect x="422.89" y="111.00" width="17.99" height="9.07" fill="#a0e848"/>
<rect x="440.73" y="111.00" width="9.07" height="9.07" fill="#70c868"/>
<rect x="449.65" y="111.00" width="9.07" height="9.07" fill="#5a4af0"/>
<rect x="485.34" y="111.00" width="9.07" height="9.07" fill="#68b890"/>
<rect x="431.81" y="119.92" width="9.07" height="9.07" fill="#60a0b8"/>
<rect x="440.73" y="119.92" width="9.07" height="9.07" fill="#78d050"/>
<rect x="449.65" y="119.92" width="9.07" height="9.07" fill="#60a8a0"/>
<rect x="449.65" y="128.84" width="9.07" height="9.07" fill="#6080d8"/>
<rect x="413.97" y="146.69" width="9.07" height="9.07" fill="#5a68e8"/>
<rect x="422.89" y="146.69" width="9.07" height="9.07" fill="#60a8a0"/>
<rect x="422.89" y="155.61" width="9.07" height="9.07" fill="#68b890"/>
<rect x="431.81" y="155.61" width="17.99" height="9.07" fill="#c8e850"/>
<rect x="449.65" y="155.61" width="9.07" height="9.07" fill="#78c870"/>
<rect x="431.81" y="164.53" width="9.07" height="9.07" fill="#5a28e0"/>
<rect x="440.73" y="164.53" width="9.07" height="9.07" fill="#80d848"/>
<rect x="449.65" y="164.53" width="17.99" height="9.07" fill="#c8e850"/>
<rect x="467.50" y="164.53" width="9.07" height="9.07" fill="#70c078"/>
<rect x="449.65" y="173.45" width="9.07" height="9.07" fill="#5a30e0"/>
<rect x="458.58" y="173.45" width="9.07" height="9.07" fill="#78c868"/>
<rect x="467.50" y="173.45" width="26.92" height="9.07" fill="#c8e850"/>
<rect x="494.26" y="173.45" width="9.07" height="9.07" fill="#5a48f0"/>
<rect x="467.50" y="182.37" width="9.07" height="9.07" fill="#5a30e0"/>
<rect x="476.42" y="182.37" width="9.07" height="9.07" fill="#68b890"/>
<rect x="485.34" y="182.37" width="9.07" height="9.07" fill="#a0e848"/>
<rect x="494.26" y="182.37" width="9.07" height="9.07" fill="#c8e850"/>
<rect x="503.19" y="182.37" width="9.07" height="9.07" fill="#b0e048"/>
<rect x="512.11" y="182.37" width="9.07" height="9.07" fill="#5a30e0"/>
<rect x="485.34" y="191.30" width="9.07" height="9.07" fill="#5a28e0"/>
<rect x="494.26" y="191.30" width="9.07" height="9.07" fill="#60a0a0"/>
<rect x="503.19" y="191.30" width="9.07" height="9.07" fill="#68b888"/>
<rect x="512.11" y="191.30" width="9.07" height="9.07" fill="#a8e048"/>
<rect x="521.03" y="191.30" width="9.07" height="9.07" fill="#80d840"/>
</g>
<rect x="387.0" y="31" width="169.7" height="169.5" fill="none" stroke="#222" stroke-width="1.2"/>
<rect x="392.5" y="51" width="45" height="3.4" fill="#000"/>
<text class="lbl" x="391.7" y="45">b</text>
<rect x="419" y="19.8" width="103.2" height="7" fill="url(#gI)" stroke="#333" stroke-width="0.9"/>
<text class="t10" x="426.8" y="16.1" textLength="88.6" lengthAdjust="spacingAndGlyphs">intensity (counts)</text>
<text class="t10" x="368.8" y="28.8" textLength="41" lengthAdjust="spacingAndGlyphs">0.8x10<tspan dy="-3.3" font-size="9.2">4</tspan></text>
<text class="t10" x="527" y="28.8" textLength="38.2" lengthAdjust="spacingAndGlyphs">1.7x10<tspan dy="-3.3" font-size="9.2">4</tspan></text>
<g id="panel-c" shape-rendering="crispEdges">
<rect x="704.03" y="39.57" width="9.07" height="9.07" fill="#3030c8"/>
<rect x="712.95" y="39.57" width="9.07" height="9.07" fill="#3838b8"/>
<rect x="695.11" y="48.49" width="9.07" height="9.07" fill="#4810e8"/>
<rect x="704.03" y="48.49" width="9.07" height="9.07" fill="#3810e0"/>
<rect x="686.19" y="57.42" width="17.99" height="9.07" fill="#4810e8"/>
<rect x="704.03" y="57.42" width="9.07" height="9.07" fill="#3010d8"/>
<rect x="570.20" y="66.34" width="9.07" height="9.07" fill="#80c020"/>
<rect x="677.26" y="66.34" width="9.07" height="9.07" fill="#6818e8"/>
<rect x="686.19" y="66.34" width="9.07" height="9.07" fill="#6018e8"/>
<rect x="695.11" y="66.34" width="9.07" height="9.07" fill="#4810e8"/>
<rect x="570.20" y="75.26" width="9.07" height="9.07" fill="#a0d028"/>
<rect x="579.12" y="75.26" width="9.07" height="9.07" fill="#80c020"/>
<rect x="588.04" y="75.26" width="9.07" height="9.07" fill="#60b020"/>
<rect x="596.97" y="75.26" width="9.07" height="9.07" fill="#78c020"/>
<rect x="677.26" y="75.26" width="9.07" height="9.07" fill="#4810e8"/>
<rect x="686.19" y="75.26" width="9.07" height="9.07" fill="#5818e8"/>
<rect x="695.11" y="75.26" width="9.07" height="9.07" fill="#3810e8"/>
<rect x="570.20" y="84.18" width="17.99" height="9.07" fill="#98d028"/>
<rect x="588.04" y="84.18" width="17.99" height="9.07" fill="#88c820"/>
<rect x="605.89" y="84.18" width="9.07" height="9.07" fill="#90c828"/>
<rect x="668.34" y="84.18" width="9.07" height="9.07" fill="#7020f0"/>
<rect x="677.26" y="84.18" width="9.07" height="9.07" fill="#5010e8"/>
<rect x="686.19" y="84.18" width="9.07" height="9.07" fill="#5818e8"/>
<rect x="570.20" y="93.10" width="35.84" height="9.07" fill="#90c828"/>
<rect x="605.89" y="93.10" width="9.07" height="9.07" fill="#88c020"/>
<rect x="614.81" y="93.10" width="9.07" height="9.07" fill="#80c020"/>
<rect x="668.34" y="93.10" width="9.07" height="9.07" fill="#5810e8"/>
<rect x="677.26" y="93.10" width="9.07" height="9.07" fill="#7820f0"/>
<rect x="570.20" y="102.03" width="9.07" height="9.07" fill="#68b020"/>
<rect x="579.12" y="102.03" width="9.07" height="9.07" fill="#78b820"/>
<rect x="588.04" y="102.03" width="17.99" height="9.07" fill="#90c828"/>
<rect x="605.89" y="102.03" width="9.07" height="9.07" fill="#98c828"/>
<rect x="614.81" y="102.03" width="9.07" height="9.07" fill="#88c020"/>
<rect x="623.73" y="102.03" width="9.07" height="9.07" fill="#60a820"/>
<rect x="668.34" y="102.03" width="9.07" height="9.07" fill="#4810e8"/>
<rect x="677.26" y="102.03" width="9.07" height="9.07" fill="#5010e8"/>
<rect x="588.04" y="110.95" width="9.07" height="9.07" fill="#58a020"/>
<rect x="596.97" y="110.95" width="9.07" height="9.07" fill="#70b820"/>
<rect x="605.89" y="110.95" width="9.07" height="9.07" fill="#a8d030"/>
<rect x="614.81" y="110.95" width="9.07" height="9.07" fill="#88c828"/>
<rect x="623.73" y="110.95" width="9.07" height="9.07" fill="#a0d030"/>
<rect x="632.65" y="110.95" width="9.07" height="9.07" fill="#e8f040"/>
<rect x="668.34" y="110.95" width="9.07" height="9.07" fill="#4008f0"/>
<rect x="614.81" y="119.87" width="9.07" height="9.07" fill="#70b820"/>
<rect x="623.73" y="119.87" width="17.99" height="9.07" fill="#e8f040"/>
<rect x="632.65" y="128.79" width="9.07" height="9.07" fill="#58a020"/>
<rect x="596.97" y="146.64" width="9.07" height="9.07" fill="#60a820"/>
<rect x="605.89" y="146.64" width="9.07" height="9.07" fill="#58a820"/>
<rect x="605.89" y="155.56" width="9.07" height="9.07" fill="#a0d830"/>
<rect x="614.81" y="155.56" width="9.07" height="9.07" fill="#a8d830"/>
<rect x="623.73" y="155.56" width="9.07" height="9.07" fill="#68b020"/>
<rect x="632.65" y="155.56" width="9.07" height="9.07" fill="#88c828"/>
<rect x="614.81" y="164.48" width="9.07" height="9.07" fill="#80c020"/>
<rect x="623.73" y="164.48" width="17.99" height="9.07" fill="#88c828"/>
<rect x="641.58" y="164.48" width="9.07" height="9.07" fill="#90c828"/>
<rect x="650.50" y="164.48" width="9.07" height="9.07" fill="#b0d830"/>
<rect x="632.65" y="173.40" width="9.07" height="9.07" fill="#f0e060"/>
<rect x="641.58" y="173.40" width="9.07" height="9.07" fill="#a8d830"/>
<rect x="650.50" y="173.40" width="9.07" height="9.07" fill="#68b020"/>
<rect x="659.42" y="173.40" width="9.07" height="9.07" fill="#78b820"/>
<rect x="668.34" y="173.40" width="9.07" height="9.07" fill="#78c020"/>
<rect x="677.26" y="173.40" width="9.07" height="9.07" fill="#98c828"/>
<rect x="650.50" y="182.32" width="9.07" height="9.07" fill="#487078"/>
<rect x="659.42" y="182.32" width="9.07" height="9.07" fill="#80c020"/>
<rect x="668.34" y="182.32" width="9.07" height="9.07" fill="#88c020"/>
<rect x="677.26" y="182.32" width="9.07" height="9.07" fill="#80c020"/>
<rect x="686.19" y="182.32" width="9.07" height="9.07" fill="#78b820"/>
<rect x="695.11" y="182.32" width="9.07" height="9.07" fill="#d8f030"/>
<rect x="668.34" y="191.25" width="9.07" height="9.07" fill="#68b020"/>
<rect x="677.26" y="191.25" width="9.07" height="9.07" fill="#80c020"/>
<rect x="686.19" y="191.25" width="26.92" height="9.07" fill="#88c020"/>
</g>
<rect x="570.3" y="31" width="168.9" height="169.8" fill="none" stroke="#222" stroke-width="1.2"/>
<text class="lbl" x="574.2" y="44.4">c</text>
<rect x="604.8" y="20" width="103.8" height="6.9" fill="url(#gO)" stroke="#555" stroke-width="0.8"/>
<text x="607.3" y="13.4" font-size="10.4" textLength="98.1" lengthAdjust="spacingAndGlyphs">fiber orientation (°)</text>
<text x="584.4" y="27.2" font-size="10.5" textLength="18.5" lengthAdjust="spacingAndGlyphs">-90</text>
<text x="711.5" y="27.2" font-size="10.5" textLength="14" lengthAdjust="spacingAndGlyphs">90</text>
<g id="panel-e" shape-rendering="crispEdges">
<rect x="704.03" y="218.37" width="9.07" height="9.07" fill="#5a50f0"/>
<rect x="712.95" y="218.37" width="9.07" height="9.07" fill="#5a58f0"/>
<rect x="695.11" y="227.29" width="9.07" height="9.07" fill="#5a68e8"/>
<rect x="704.03" y="227.29" width="9.07" height="9.07" fill="#5a60e8"/>
<rect x="686.19" y="236.22" width="9.07" height="9.07" fill="#6088d0"/>
<rect x="695.11" y="236.22" width="17.99" height="9.07" fill="#5a50f0"/>
<rect x="570.20" y="245.14" width="9.07" height="9.07" fill="#60b098"/>
<rect x="677.26" y="245.14" width="9.07" height="9.07" fill="#60a0b0"/>
<rect x="686.19" y="245.14" width="9.07" height="9.07" fill="#6080d8"/>
<rect x="695.11" y="245.14" width="9.07" height="9.07" fill="#5a50f0"/>
<rect x="570.20" y="254.06" width="9.07" height="9.07" fill="#5a50f0"/>
<rect x="579.12" y="254.06" width="9.07" height="9.07" fill="#5a58f0"/>
<rect x="588.04" y="254.06" width="9.07" height="9.07" fill="#60a0b8"/>
<rect x="596.97" y="254.06" width="9.07" height="9.07" fill="#5a20d0"/>
<rect x="677.26" y="254.06" width="9.07" height="9.07" fill="#5a50f0"/>
<rect x="686.19" y="254.06" width="9.07" height="9.07" fill="#5a58f0"/>
<rect x="695.11" y="254.06" width="9.07" height="9.07" fill="#500898"/>
<rect x="570.20" y="262.98" width="9.07" height="9.07" fill="#5a60e8"/>
<rect x="579.12" y="262.98" width="9.07" height="9.07" fill="#6088d0"/>
<rect x="588.04" y="262.98" width="9.07" height="9.07" fill="#5a60f0"/>
<rect x="596.97" y="262.98" width="9.07" height="9.07" fill="#60a8a0"/>
<rect x="605.89" y="262.98" width="9.07" height="9.07" fill="#5a50f0"/>
<rect x="668.34" y="262.98" width="9.07" height="9.07" fill="#5a40e8"/>
<rect x="677.26" y="262.98" width="17.99" height="9.07" fill="#5a58f0"/>
<rect x="570.20" y="271.90" width="9.07" height="9.07" fill="#6088d0"/>
<rect x="579.12" y="271.90" width="9.07" height="9.07" fill="#60a0b8"/>
<rect x="588.04" y="271.90" width="9.07" height="9.07" fill="#68b098"/>
<rect x="596.97" y="271.90" width="9.07" height="9.07" fill="#5a70e8"/>
<rect x="605.89" y="271.90" width="9.07" height="9.07" fill="#5a58f0"/>
<rect x="614.81" y="271.90" width="9.07" height="9.07" fill="#5a60e8"/>
<rect x="668.34" y="271.90" width="9.07" height="9.07" fill="#500898"/>
<rect x="677.26" y="271.90" width="9.07" height="9.07" fill="#6080d8"/>
<rect x="570.20" y="280.83" width="9.07" height="9.07" fill="#5a50f0"/>
<rect x="579.12" y="280.83" width="9.07" height="9.07" fill="#5a78e0"/>
<rect x="588.04" y="280.83" width="9.07" height="9.07" fill="#6090c8"/>
<rect x="596.97" y="280.83" width="9.07" height="9.07" fill="#70c080"/>
<rect x="605.89" y="280.83" width="9.07" height="9.07" fill="#6090c8"/>
<rect x="614.81" y="280.83" width="9.07" height="9.07" fill="#5a58f0"/>
<rect x="623.73" y="280.83" width="9.07" height="9.07" fill="#68b098"/>
<rect x="668.34" y="280.83" width="9.07" height="9.07" fill="#5a40e8"/>
<rect x="677.26" y="280.83" width="9.07" height="9.07" fill="#5a48e8"/>
<rect x="588.04" y="289.75" width="9.07" height="9.07" fill="#88e040"/>
<rect x="596.97" y="289.75" width="9.07" height="9.07" fill="#80d848"/>
<rect x="605.89" y="289.75" width="9.07" height="9.07" fill="#60a0b0"/>
<rect x="614.81" y="289.75" width="9.07" height="9.07" fill="#60a8a0"/>
<rect x="623.73" y="289.75" width="9.07" height="9.07" fill="#6090c8"/>
<rect x="632.65" y="289.75" width="9.07" height="9.07" fill="#500898"/>
<rect x="668.34" y="289.75" width="9.07" height="9.07" fill="#68c088"/>
<rect x="614.81" y="298.67" width="9.07" height="9.07" fill="#60a8a8"/>
<rect x="623.73" y="298.67" width="9.07" height="9.07" fill="#6080d8"/>
<rect x="632.65" y="298.67" width="9.07" height="9.07" fill="#60a0b8"/>
<rect x="632.65" y="307.59" width="9.07" height="9.07" fill="#6088d0"/>
<rect x="596.97" y="325.44" width="9.07" height="9.07" fill="#98e840"/>
<rect x="605.89" y="325.44" width="9.07" height="9.07" fill="#78d848"/>
<rect x="605.89" y="334.36" width="9.07" height="9.07" fill="#60a8a0"/>
<rect x="614.81" y="334.36" width="9.07" height="9.07" fill="#5a68f0"/>
<rect x="623.73" y="334.36" width="9.07" height="9.07" fill="#5a28d8"/>
<rect x="632.65" y="334.36" width="9.07" height="9.07" fill="#500890"/>
<rect x="614.81" y="343.28" width="9.07" height="9.07" fill="#500898"/>
<rect x="623.73" y="343.28" width="9.07" height="9.07" fill="#5a70e8"/>
<rect x="632.65" y="343.28" width="9.07" height="9.07" fill="#60a0b0"/>
<rect x="641.58" y="343.28" width="9.07" height="9.07" fill="#6088d0"/>
<rect x="650.50" y="343.28" width="9.07" height="9.07" fill="#5a50f0"/>
<rect x="632.65" y="352.20" width="9.07" height="9.07" fill="#6080d8"/>
<rect x="641.58" y="352.20" width="9.07" height="9.07" fill="#5a68f0"/>
<rect x="650.50" y="352.20" width="9.07" height="9.07" fill="#5a78e0"/>
<rect x="659.42" y="352.20" width="17.99" height="9.07" fill="#5a50f0"/>
<rect x="677.26" y="352.20" width="9.07" height="9.07" fill="#500890"/>
<rect x="650.50" y="361.12" width="9.07" height="9.07" fill="#500898"/>
<rect x="659.42" y="361.12" width="9.07" height="9.07" fill="#60a8a0"/>
<rect x="668.34" y="361.12" width="9.07" height="9.07" fill="#6088d0"/>
<rect x="677.26" y="361.12" width="9.07" height="9.07" fill="#60a0b8"/>
<rect x="686.19" y="361.12" width="9.07" height="9.07" fill="#5a50f0"/>
<rect x="695.11" y="361.12" width="9.07" height="9.07" fill="#500898"/>
<rect x="668.34" y="370.05" width="9.07" height="9.07" fill="#500898"/>
<rect x="677.26" y="370.05" width="9.07" height="9.07" fill="#6080d8"/>
<rect x="686.19" y="370.05" width="9.07" height="9.07" fill="#5a50f0"/>
<rect x="695.11" y="370.05" width="9.07" height="9.07" fill="#5a68f0"/>
<rect x="704.03" y="370.05" width="9.07" height="9.07" fill="#6078e0"/>
</g>
<rect x="570.3" y="209.7" width="168.9" height="169.6" fill="none" stroke="#222" stroke-width="1.2"/>
<text class="lbl" x="574.2" y="224.9">e</text>
<rect x="601" y="388.5" width="106.5" height="7.2" fill="url(#gI)" stroke="#333" stroke-width="0.8"/>
<text x="576.4" y="395.6" font-size="9.3" textLength="19.3" lengthAdjust="spacingAndGlyphs">0.15</text>
<text x="710.6" y="395.6" font-size="9.3" textLength="19.1" lengthAdjust="spacingAndGlyphs">0.19</text>
<text x="601.9" y="409.2" font-size="11" textLength="106.6" lengthAdjust="spacingAndGlyphs">q<tspan dy="1.8" font-size="8">r</tspan><tspan dy="-6.2" font-size="8">(1,0)</tspan><tspan dy="4.4" font-size="11"> position (nm</tspan><tspan dy="-4.4" font-size="8">-1</tspan><tspan dy="4.4" font-size="11">)</tspan></text>
<g id="panel-d">
<rect x="388.5" y="211.3" width="167.5" height="167.0" fill="#fff"/>
<g stroke="#e2e2e2" stroke-width="0.7">
<line x1="409.4" y1="211.3" x2="409.4" y2="378.3"/>
<line x1="430.4" y1="211.3" x2="430.4" y2="378.3"/>
<line x1="451.3" y1="211.3" x2="451.3" y2="378.3"/>
<line x1="472.2" y1="211.3" x2="472.2" y2="378.3"/>
<line x1="493.2" y1="211.3" x2="493.2" y2="378.3"/>
<line x1="514.1" y1="211.3" x2="514.1" y2="378.3"/>
<line x1="535.1" y1="211.3" x2="535.1" y2="378.3"/>
<line x1="388.5" y1="350.5" x2="556.0" y2="350.5"/>
<line x1="388.5" y1="322.6" x2="556.0" y2="322.6"/>
<line x1="388.5" y1="294.8" x2="556.0" y2="294.8"/>
<line x1="388.5" y1="267.0" x2="556.0" y2="267.0"/>
<line x1="388.5" y1="239.1" x2="556.0" y2="239.1"/>
</g>
<g clip-path="url(#clipd)">
<polyline points="388.5,236.4 389.3,239.6 390.2,242.8 391.0,246.0 391.8,249.1 392.7,252.2 393.5,255.4 394.3,258.5 395.1,261.6 396.0,264.6 396.8,267.5 397.6,270.2 398.5,273.1 399.3,275.7 400.1,278.1 401.0,280.0 401.8,281.6 402.6,283.1 403.5,284.4 404.3,285.1 405.1,285.1 406.0,284.1 406.8,282.5 407.6,280.6 408.4,277.7 409.3,273.2 410.1,268.0 410.9,262.3 411.8,255.8 412.6,248.9 413.4,242.1 414.3,235.2 415.1,229.4 415.9,224.3 416.8,221.2 417.6,219.5 418.4,220.1 419.3,222.4 420.1,227.8 420.9,235.2 421.7,244.4 422.6,255.2 423.4,267.8 424.2,280.2 425.1,291.8 425.9,300.4 426.7,307.0 427.6,311.3 428.4,314.4 429.2,317.1 430.1,320.2 430.9,323.4 431.7,326.0 432.6,327.4 433.4,328.5 434.2,329.5 435.0,330.3 435.9,331.1 436.7,331.7 437.5,332.3 438.4,332.9 439.2,333.5 440.0,334.1 440.9,334.8 441.7,335.4 442.5,336.1 443.4,336.7 444.2,337.3 445.0,338.0 445.9,338.5 446.7,339.1 447.5,339.7 448.3,340.2 449.2,340.7 450.0,341.2 450.8,341.6 451.7,342.1 452.5,342.5 453.3,343.0 454.2,343.4 455.0,343.8 455.8,344.2 456.7,344.6 457.5,345.0 458.3,345.4 459.2,345.8 460.0,346.2 460.8,346.5 461.6,346.9 462.5,347.3 463.3,347.6 464.1,347.9 465.0,348.3 465.8,348.6 466.6,348.9 467.5,349.2 468.3,349.5 469.1,349.8 470.0,350.1 470.8,350.4 471.6,350.7 472.4,351.0 473.3,351.3 474.1,351.5 474.9,351.8 475.8,352.1 476.6,352.3 477.4,352.6 478.3,352.8 479.1,353.1 479.9,353.3 480.8,353.6 481.6,353.8 482.4,354.1 483.3,354.3 484.1,354.6 484.9,354.8 485.7,355.0 486.6,355.3 487.4,355.5 488.2,355.7 489.1,356.0 489.9,356.2 490.7,356.4 491.6,356.6 492.4,356.8 493.2,357.0 494.1,357.2 494.9,357.4 495.7,357.6 496.6,357.8 497.4,357.9 498.2,358.1 499.0,358.3 499.9,358.4 500.7,358.6 501.5,358.7 502.4,358.9 503.2,359.0 504.0,359.2 504.9,359.3 505.7,359.5 506.5,359.6 507.4,359.7 508.2,359.9 509.0,360.0 509.9,360.1 510.7,360.3 511.5,360.4 512.3,360.5 513.2,360.6 514.0,360.8 514.8,360.9 515.7,361.0 516.5,361.1 517.3,361.2 518.2,361.4 519.0,361.5 519.8,361.6 520.7,361.7 521.5,361.8 522.3,361.9 523.2,362.0 524.0,362.1 524.8,362.2 525.6,362.3 526.5,362.4 527.3,362.5 528.1,362.6 529.0,362.7 529.8,362.8 530.6,362.9 531.5,363.0 532.3,363.1 533.1,363.2 534.0,363.3 534.8,363.4 535.6,363.5 536.5,363.6 537.3,363.7 538.1,363.8 538.9,363.9 539.8,363.9 540.6,364.0 541.4,364.1 542.3,364.2 543.1,364.3 543.9,364.4 544.8,364.4 545.6,364.5 546.4,364.6 547.3,364.7 548.1,364.7 548.9,364.8 549.8,364.9 550.6,365.0 551.4,365.0 552.2,365.1 553.1,365.2 553.9,365.2" fill="none" stroke="#e01818" stroke-width="1.05"/>
<g fill="#1a1aff">
<circle cx="388.8" cy="246.9" r="1.5"/>
<circle cx="391.1" cy="251.7" r="1.5"/>
<circle cx="393.4" cy="262.5" r="1.5"/>
<circle cx="395.6" cy="275.3" r="1.5"/>
<circle cx="397.6" cy="272.4" r="1.5"/>
<circle cx="399.9" cy="265.9" r="1.5"/>
<circle cx="402.2" cy="271.6" r="1.5"/>
<circle cx="404.4" cy="274.2" r="1.5"/>
<circle cx="406.7" cy="267.4" r="1.5"/>
<circle cx="409.0" cy="264.7" r="1.5"/>
<circle cx="411.2" cy="257.4" r="1.5"/>
<circle cx="413.5" cy="239.8" r="1.5"/>
<circle cx="415.5" cy="227.9" r="1.5"/>
<circle cx="417.8" cy="220.5" r="1.5"/>
<circle cx="420.1" cy="238.4" r="1.5"/>
<circle cx="422.3" cy="251.1" r="1.5"/>
<circle cx="424.6" cy="279.5" r="1.5"/>
<circle cx="426.9" cy="302.3" r="1.5"/>
<circle cx="429.1" cy="308.6" r="1.5"/>
<circle cx="431.4" cy="320.5" r="1.5"/>
<circle cx="433.7" cy="324.9" r="1.5"/>
<circle cx="435.9" cy="328.5" r="1.5"/>
<circle cx="438.2" cy="328.5" r="1.5"/>
<circle cx="440.5" cy="332.0" r="1.5"/>
<circle cx="442.7" cy="334.7" r="1.5"/>
<circle cx="445.0" cy="342.4" r="1.5"/>
<circle cx="447.3" cy="340.4" r="1.5"/>
<circle cx="449.5" cy="341.0" r="1.5"/>
<circle cx="451.8" cy="348.4" r="1.5"/>
<circle cx="454.1" cy="346.2" r="1.5"/>
<circle cx="456.4" cy="351.9" r="1.5"/>
<circle cx="458.6" cy="350.5" r="1.5"/>
<circle cx="460.9" cy="347.0" r="1.5"/>
<circle cx="463.2" cy="352.7" r="1.5"/>
<circle cx="465.4" cy="346.2" r="1.5"/>
<circle cx="467.7" cy="351.3" r="1.5"/>
<circle cx="470.0" cy="350.5" r="1.5"/>
<circle cx="472.2" cy="353.8" r="1.5"/>
<circle cx="474.5" cy="349.5" r="1.5"/>
<circle cx="476.8" cy="352.7" r="1.5"/>
<circle cx="479.1" cy="356.0" r="1.5"/>
<circle cx="481.3" cy="356.9" r="1.5"/>
<circle cx="483.6" cy="355.2" r="1.5"/>
<circle cx="485.9" cy="358.1" r="1.5"/>
<circle cx="488.1" cy="357.6" r="1.5"/>
<circle cx="490.4" cy="356.0" r="1.5"/>
<circle cx="492.7" cy="363.1" r="1.5"/>
<circle cx="494.9" cy="359.0" r="1.5"/>
<circle cx="497.2" cy="355.5" r="1.5"/>
<circle cx="499.5" cy="359.5" r="1.5"/>
<circle cx="501.7" cy="359.0" r="1.5"/>
<circle cx="504.0" cy="359.8" r="1.5"/>
<circle cx="506.3" cy="362.3" r="1.5"/>
<circle cx="508.6" cy="363.1" r="1.5"/>
<circle cx="510.8" cy="359.5" r="1.5"/>
<circle cx="513.1" cy="363.1" r="1.5"/>
<circle cx="515.4" cy="361.7" r="1.5"/>
<circle cx="517.6" cy="360.3" r="1.5"/>
<circle cx="519.9" cy="361.2" r="1.5"/>
<circle cx="522.2" cy="362.3" r="1.5"/>
<circle cx="524.4" cy="365.2" r="1.5"/>
<circle cx="526.7" cy="362.3" r="1.5"/>
<circle cx="529.0" cy="363.1" r="1.5"/>
<circle cx="531.3" cy="360.3" r="1.5"/>
<circle cx="533.5" cy="362.3" r="1.5"/>
<circle cx="535.8" cy="364.7" r="1.5"/>
<circle cx="538.1" cy="363.7" r="1.5"/>
<circle cx="540.3" cy="364.0" r="1.5"/>
<circle cx="542.6" cy="365.5" r="1.5"/>
<circle cx="544.9" cy="363.1" r="1.5"/>
<circle cx="547.1" cy="366.1" r="1.5"/>
<circle cx="549.4" cy="366.1" r="1.5"/>
<circle cx="551.7" cy="368.3" r="1.5"/>
<circle cx="553.9" cy="365.5" r="1.5"/>
</g>
</g>
<rect x="388.5" y="211.3" width="167.5" height="167.0" fill="none" stroke="#666" stroke-width="0.7"/>
<text class="tick" x="388.5" y="385.8" text-anchor="middle">0.1</text>
<text class="tick" x="409.4" y="385.8" text-anchor="middle">0.15</text>
<text class="tick" x="430.4" y="385.8" text-anchor="middle">0.2</text>
<text class="tick" x="451.3" y="385.8" text-anchor="middle">0.25</text>
<text class="tick" x="472.2" y="385.8" text-anchor="middle">0.3</text>
<text class="tick" x="493.2" y="385.8" text-anchor="middle">0.35</text>
<text class="tick" x="514.1" y="385.8" text-anchor="middle">0.4</text>
<text class="tick" x="535.1" y="385.8" text-anchor="middle">0.45</text>
<text class="tick" x="556.0" y="385.8" text-anchor="middle">0.5</text>
<text class="tick" x="386.3" y="380.4" text-anchor="end">0</text>
<text class="tick" x="386.3" y="352.6" text-anchor="end">0.02</text>
<text class="tick" x="386.3" y="324.7" text-anchor="end">0.04</text>
<text class="tick" x="386.3" y="296.9" text-anchor="end">0.06</text>
<text class="tick" x="386.3" y="269.1" text-anchor="end">0.08</text>
<text class="tick" x="386.3" y="241.2" text-anchor="end">0.1</text>
<text class="tick" x="386.3" y="213.4" text-anchor="end">0.12</text>
<rect x="433.2" y="218.5" width="122" height="26" fill="#fff" stroke="#333" stroke-width="0.7"/>
<circle cx="451.6" cy="225.7" r="1.5" fill="#1a1aff"/>
<line x1="436.5" y1="237.3" x2="465.2" y2="237.3" stroke="#e01818" stroke-width="1.05"/>
<text x="468.6" y="229" font-size="8.3" textLength="73" lengthAdjust="spacingAndGlyphs">azimuthal average</text>
<text x="468.6" y="240.2" font-size="8.3" textLength="44.3" lengthAdjust="spacingAndGlyphs">fitted curve</text>
<text class="lbl" x="392.8" y="225.3">d</text>
<text x="437.7" y="404.4" font-size="11.2" textLength="46" lengthAdjust="spacingAndGlyphs">q<tspan dy="1.8" font-size="8.5">r</tspan><tspan dy="-1.8" font-size="11.2"> (nm</tspan><tspan dy="-4.4" font-size="8">-1</tspan><tspan dy="4.4" font-size="11.2">)</tspan></text>
<text transform="translate(366.1,372.1) rotate(-90)" font-size="10.4" textLength="149" lengthAdjust="spacingAndGlyphs">normalized intensity (counts)</text>
</g>
</svg></body></html>
